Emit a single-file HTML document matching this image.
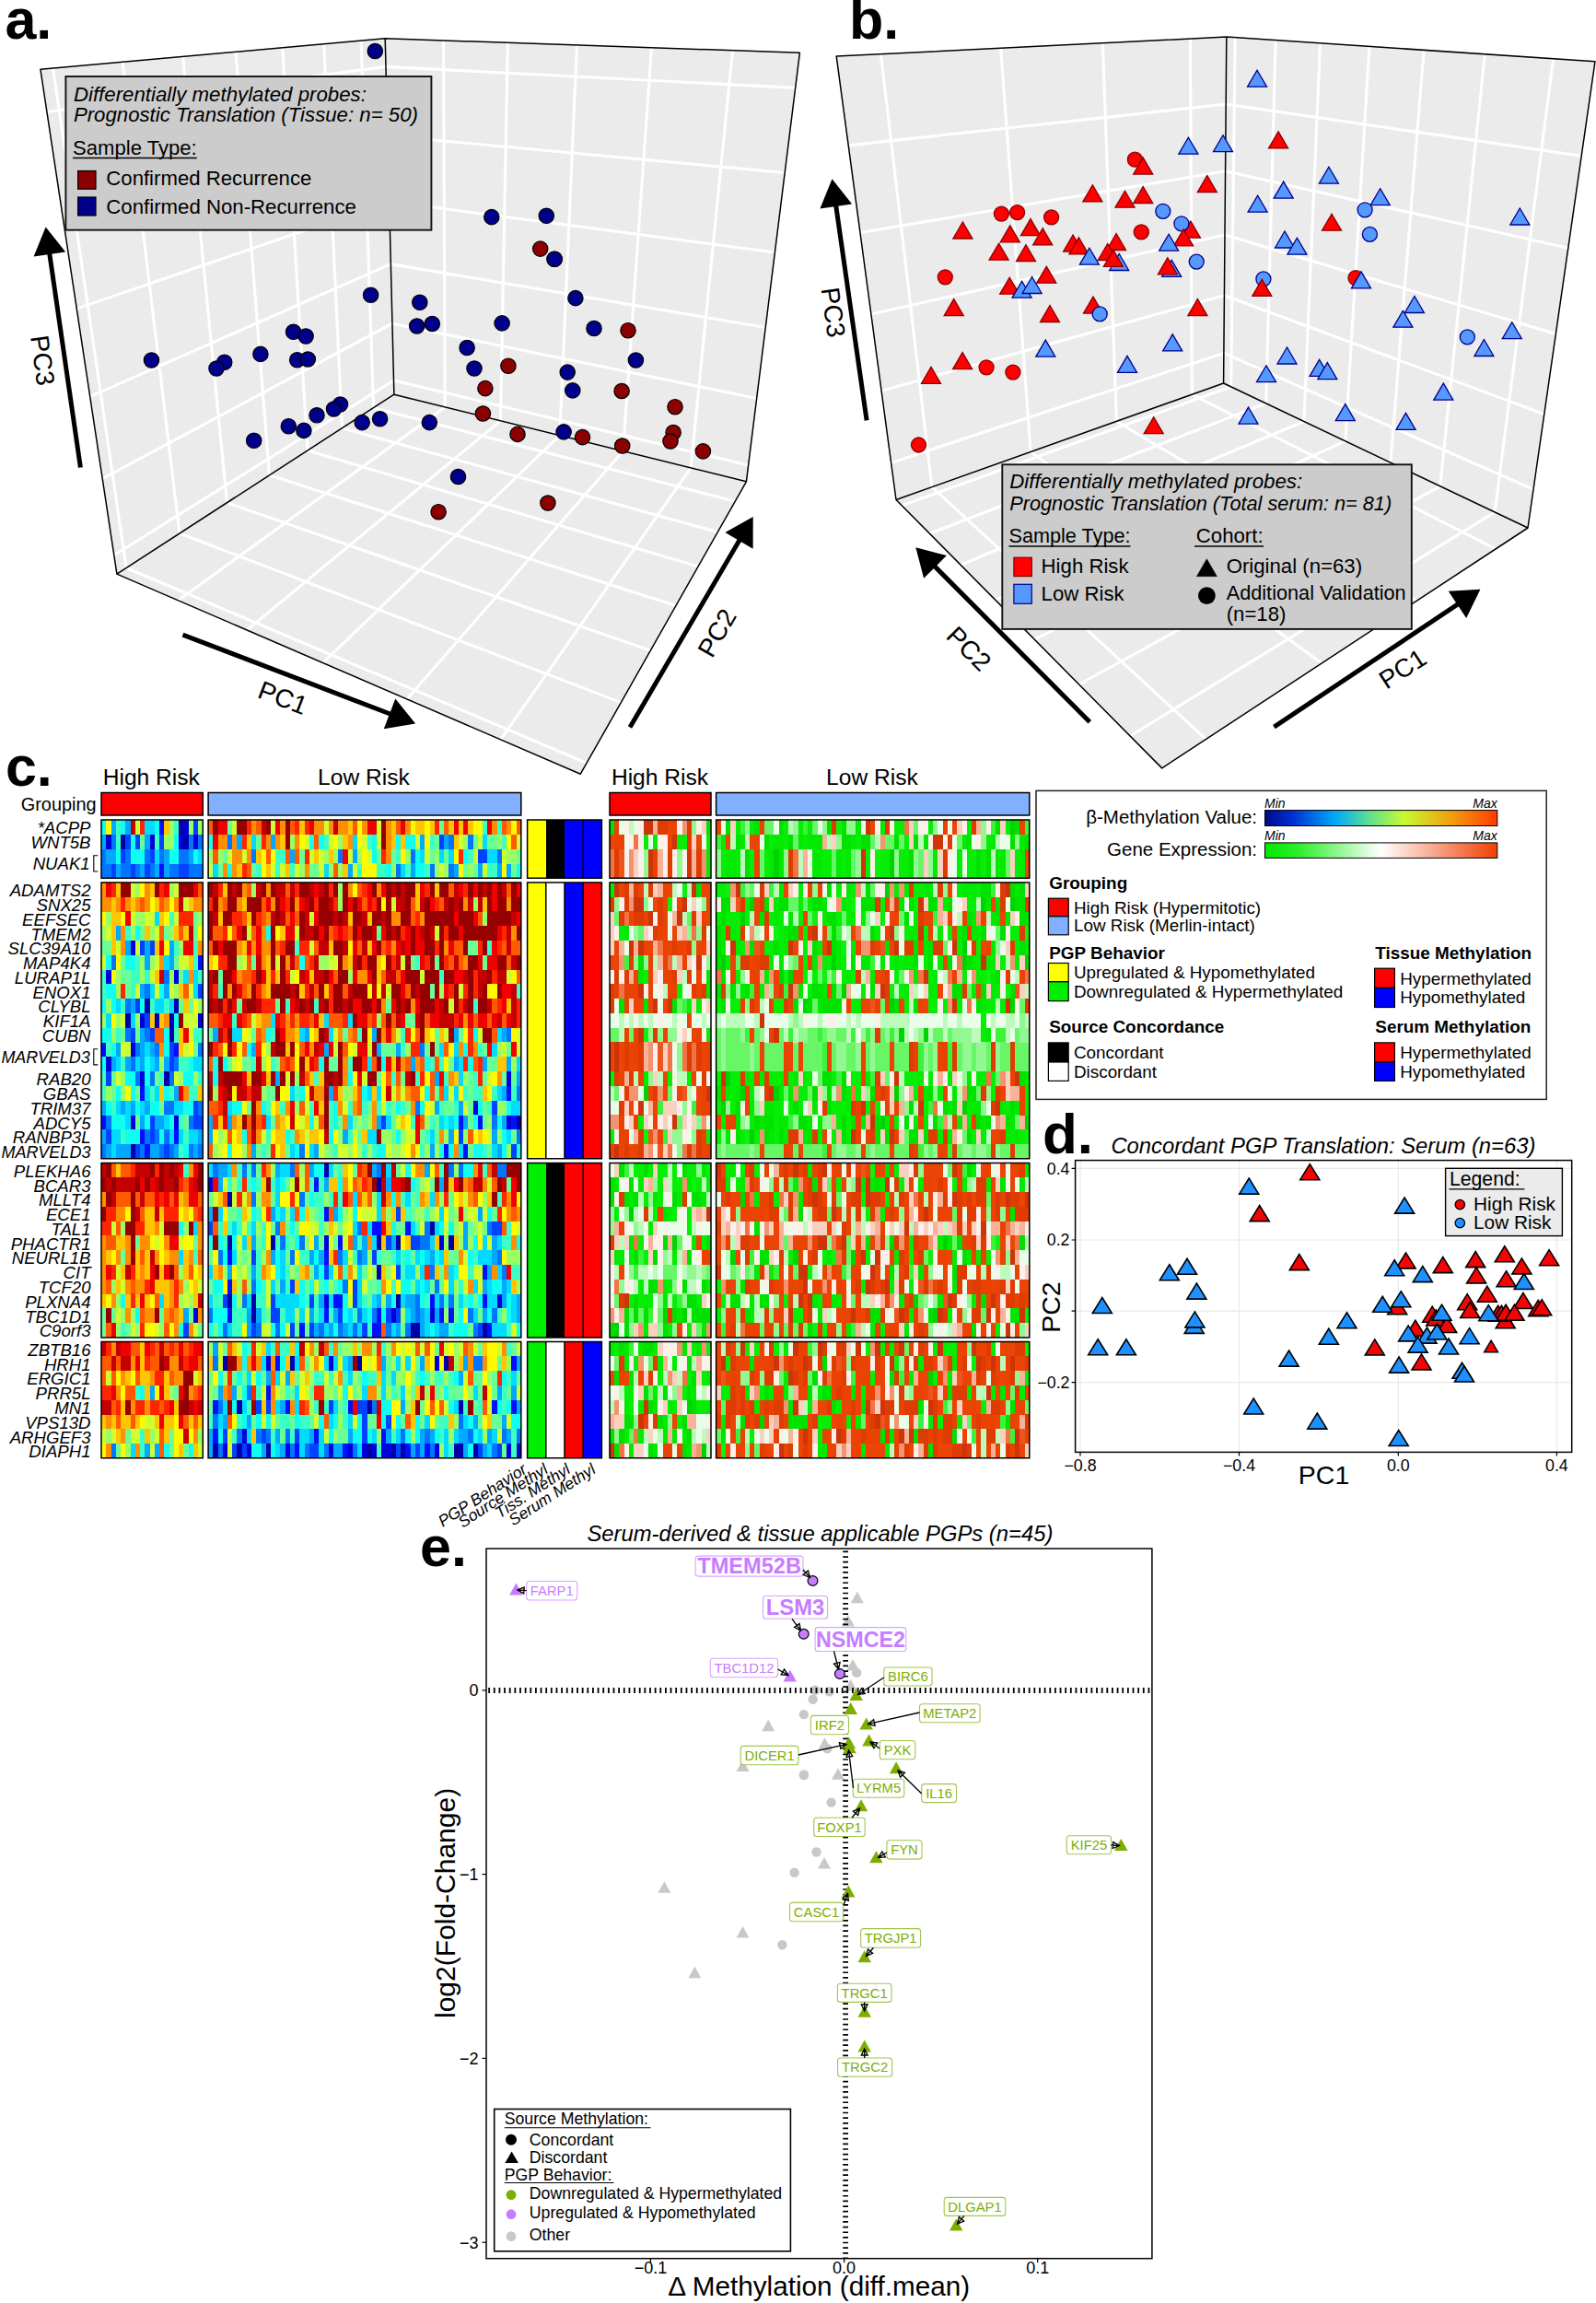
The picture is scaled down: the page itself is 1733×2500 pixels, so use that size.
<!DOCTYPE html>
<html><head><meta charset="utf-8"><title>Figure</title>
<style>html,body{margin:0;padding:0;background:#fff}svg{display:block}text{font-family:"Liberation Sans",Arial,Helvetica,sans-serif;fill:#000}</style>
</head><body>
<svg width="1733" height="2500" viewBox="0 0 1733 2500">
<rect width="1733" height="2500" fill="#fff"/>
<polygon points="43.9,75.2 418.2,41.7 868.4,57.3 810.4,522.8 630.3,840.2 126.9,623.1" fill="#ebebeb"/>
<path d="M392.1,44 L405.6,442.7 L798.2,544.2 M351.7,47.6 L371.5,464.7 L779.3,577.5 M306.7,51.7 L334,489 L758.1,615.1 M256,56.2 L292.5,515.8 L733.9,657.6 M198.6,61.4 L246.5,545.7 L706.3,706.3 M133,67.2 L195,579 L674.4,762.6 M57.5,74 L137.1,616.5 L637.1,828.3 M481.6,43.9 L483.2,441.9 L193.5,651.8 M551.3,46.3 L543.5,456.8 L268.2,684 M626.4,48.9 L607.8,472.7 L350.6,719.6 M707.5,51.7 L676.5,489.7 L441.9,758.9 M795.5,54.8 L750.1,507.9 L543.6,802.8 M123.8,602.8 L427.5,413 L812.6,505 M111.2,519.7 L426,351.2 L821.7,432.4 M97.7,430.7 L424.3,286.6 L831.2,355.5 M83.3,335.1 L422.6,218.7 L841.4,274 M67.7,232.4 L420.9,147.4 L852.2,187.5 M50.9,121.5 L419,72.4 L863.7,95.4" fill="none" stroke="#fff" stroke-width="3.1" stroke-linejoin="round"/>
<path d="M43.9,75.2 L418.2,41.7 L868.4,57.3 L810.4,522.8 L630.3,840.2 L126.9,623.1 Z M418.2,41.7 L427.9,428.2 M427.9,428.2 L126.9,623.1 M427.9,428.2 L810.4,522.8" fill="none" stroke="#000" stroke-width="1.5" stroke-linejoin="round"/>
<circle cx="407.3" cy="55.5" r="8.2" fill="#00008b" stroke="#000" stroke-width="1.2"/>
<circle cx="402.6" cy="320.2" r="8.2" fill="#00008b" stroke="#000" stroke-width="1.2"/>
<circle cx="455.8" cy="328.3" r="8.2" fill="#00008b" stroke="#000" stroke-width="1.2"/>
<circle cx="452.7" cy="354" r="8.2" fill="#00008b" stroke="#000" stroke-width="1.2"/>
<circle cx="469.3" cy="351.5" r="8.2" fill="#00008b" stroke="#000" stroke-width="1.2"/>
<circle cx="318.6" cy="360.3" r="8.2" fill="#00008b" stroke="#000" stroke-width="1.2"/>
<circle cx="332.1" cy="365" r="8.2" fill="#00008b" stroke="#000" stroke-width="1.2"/>
<circle cx="282.9" cy="384.4" r="8.2" fill="#00008b" stroke="#000" stroke-width="1.2"/>
<circle cx="322.7" cy="390.7" r="8.2" fill="#00008b" stroke="#000" stroke-width="1.2"/>
<circle cx="334.3" cy="390" r="8.2" fill="#00008b" stroke="#000" stroke-width="1.2"/>
<circle cx="164.5" cy="391" r="8.2" fill="#00008b" stroke="#000" stroke-width="1.2"/>
<circle cx="243.7" cy="393.2" r="8.2" fill="#00008b" stroke="#000" stroke-width="1.2"/>
<circle cx="235" cy="400" r="8.2" fill="#00008b" stroke="#000" stroke-width="1.2"/>
<circle cx="369.5" cy="439" r="8.2" fill="#00008b" stroke="#000" stroke-width="1.2"/>
<circle cx="362.5" cy="444" r="8.2" fill="#00008b" stroke="#000" stroke-width="1.2"/>
<circle cx="344" cy="450.8" r="8.2" fill="#00008b" stroke="#000" stroke-width="1.2"/>
<circle cx="313.3" cy="462.7" r="8.2" fill="#00008b" stroke="#000" stroke-width="1.2"/>
<circle cx="329.9" cy="467.4" r="8.2" fill="#00008b" stroke="#000" stroke-width="1.2"/>
<circle cx="275.7" cy="478.3" r="8.2" fill="#00008b" stroke="#000" stroke-width="1.2"/>
<circle cx="393.2" cy="458.6" r="8.2" fill="#00008b" stroke="#000" stroke-width="1.2"/>
<circle cx="412.6" cy="454.8" r="8.2" fill="#00008b" stroke="#000" stroke-width="1.2"/>
<circle cx="466.3" cy="458.6" r="8.2" fill="#00008b" stroke="#000" stroke-width="1.2"/>
<circle cx="497.5" cy="517.5" r="8.2" fill="#00008b" stroke="#000" stroke-width="1.2"/>
<circle cx="533.8" cy="235.6" r="8.2" fill="#00008b" stroke="#000" stroke-width="1.2"/>
<circle cx="593.3" cy="234.3" r="8.2" fill="#00008b" stroke="#000" stroke-width="1.2"/>
<circle cx="602.1" cy="281.3" r="8.2" fill="#00008b" stroke="#000" stroke-width="1.2"/>
<circle cx="624.9" cy="323.6" r="8.2" fill="#00008b" stroke="#000" stroke-width="1.2"/>
<circle cx="545.1" cy="350.9" r="8.2" fill="#00008b" stroke="#000" stroke-width="1.2"/>
<circle cx="645" cy="356.5" r="8.2" fill="#00008b" stroke="#000" stroke-width="1.2"/>
<circle cx="507.1" cy="377.5" r="8.2" fill="#00008b" stroke="#000" stroke-width="1.2"/>
<circle cx="690.4" cy="391" r="8.2" fill="#00008b" stroke="#000" stroke-width="1.2"/>
<circle cx="515" cy="400" r="8.2" fill="#00008b" stroke="#000" stroke-width="1.2"/>
<circle cx="616.2" cy="404.1" r="8.2" fill="#00008b" stroke="#000" stroke-width="1.2"/>
<circle cx="621.8" cy="423.9" r="8.2" fill="#00008b" stroke="#000" stroke-width="1.2"/>
<circle cx="612.1" cy="468.9" r="8.2" fill="#00008b" stroke="#000" stroke-width="1.2"/>
<circle cx="586.7" cy="270.1" r="8.2" fill="#8b0000" stroke="#000" stroke-width="1.2"/>
<circle cx="682" cy="358.7" r="8.2" fill="#8b0000" stroke="#000" stroke-width="1.2"/>
<circle cx="551.9" cy="397.2" r="8.2" fill="#8b0000" stroke="#000" stroke-width="1.2"/>
<circle cx="526.9" cy="421.6" r="8.2" fill="#8b0000" stroke="#000" stroke-width="1.2"/>
<circle cx="675.1" cy="424.5" r="8.2" fill="#8b0000" stroke="#000" stroke-width="1.2"/>
<circle cx="733" cy="441.7" r="8.2" fill="#8b0000" stroke="#000" stroke-width="1.2"/>
<circle cx="524.4" cy="449" r="8.2" fill="#8b0000" stroke="#000" stroke-width="1.2"/>
<circle cx="562" cy="471.4" r="8.2" fill="#8b0000" stroke="#000" stroke-width="1.2"/>
<circle cx="632.5" cy="474.6" r="8.2" fill="#8b0000" stroke="#000" stroke-width="1.2"/>
<circle cx="675.7" cy="484" r="8.2" fill="#8b0000" stroke="#000" stroke-width="1.2"/>
<circle cx="731.1" cy="469.5" r="8.2" fill="#8b0000" stroke="#000" stroke-width="1.2"/>
<circle cx="728" cy="479" r="8.2" fill="#8b0000" stroke="#000" stroke-width="1.2"/>
<circle cx="763.4" cy="489.9" r="8.2" fill="#8b0000" stroke="#000" stroke-width="1.2"/>
<circle cx="476.1" cy="555.7" r="8.2" fill="#8b0000" stroke="#000" stroke-width="1.2"/>
<circle cx="594.9" cy="546" r="8.2" fill="#8b0000" stroke="#000" stroke-width="1.2"/>
<circle cx="602.1" cy="281.3" r="8.2" fill="#00008b" stroke="#000" stroke-width="1.2"/>
<line x1="87.4" y1="507.5" x2="53.6" y2="274.1" stroke="#000" stroke-width="5"/><polygon points="49.6,246.4 71.2,273.6 36.6,278.6" fill="#000"/>
<line x1="198.5" y1="689.1" x2="424.9" y2="775.5" stroke="#000" stroke-width="5"/><polygon points="451.1,785.5 416.8,791.2 429.3,758.5" fill="#000"/>
<line x1="684" y1="789.5" x2="803.6" y2="585.3" stroke="#000" stroke-width="5"/><polygon points="817.7,561.1 817.6,595.8 787.4,578.1" fill="#000"/>
<text x="46.6" y="391.2" transform="rotate(82 46.6 391.2)" text-anchor="middle" font-size="28" dy="10">PC3</text>
<text x="307.3" y="757.3" transform="rotate(21 307.3 757.3)" text-anchor="middle" font-size="28" dy="10">PC1</text>
<text x="778.2" y="686.9" transform="rotate(-60 778.2 686.9)" text-anchor="middle" font-size="28" dy="10">PC2</text>
<rect x="71.4" y="83" width="397" height="166.7" fill="#cccccc" stroke="#111" stroke-width="1.9"/>
<text x="79.9" y="109.6" font-size="22" font-style="italic" textLength="318" lengthAdjust="spacingAndGlyphs">Differentially methylated probes:</text>
<text x="79.9" y="132.2" font-size="22" font-style="italic" textLength="374" lengthAdjust="spacingAndGlyphs">Prognostic Translation (Tissue: n= 50)</text>
<text x="79" y="167.6" font-size="22" textLength="134.7" lengthAdjust="spacingAndGlyphs">Sample Type:</text>
<line x1="79" y1="171.5" x2="213.7" y2="171.5" stroke="#000" stroke-width="1.4"/>
<rect x="84.6" y="185.5" width="19.4" height="19.7" fill="#8b0000" stroke="#000" stroke-width="1.2"/>
<rect x="84.6" y="214" width="19.4" height="20" fill="#00008b" stroke="#000" stroke-width="1.2"/>
<text x="115.3" y="200.5" font-size="22" textLength="223" lengthAdjust="spacingAndGlyphs">Confirmed Recurrence</text>
<text x="115.3" y="231.8" font-size="22" textLength="271.6" lengthAdjust="spacingAndGlyphs">Confirmed Non-Recurrence</text>
<text x="5.4" y="42.3" font-size="61" font-weight="bold">a.</text>
<polygon points="908.2,61.1 1331.8,40.1 1732,66.7 1659,573 1261.7,833.9 973,542.5" fill="#ebebeb"/>
<path d="M1292.5,42 L1294.3,428.2 L1624.2,595.8 M1197.3,46.8 L1212.4,457.3 L1538.4,652.2 M1086.7,52.3 L1119.1,490.5 L1435.3,719.9 M956.4,58.7 L1011.9,528.7 L1309.5,802.5 M1341.1,40.7 L1336.7,419.8 L979.3,548.9 M1385.1,43.6 L1374.7,437.9 L1009.5,579.3 M1433.5,46.9 L1415.9,457.5 L1043.1,613.3 M1486.9,50.4 L1460.8,478.8 L1080.8,651.3 M1546.1,54.3 L1509.9,502.1 L1123.3,694.2 M1612.3,58.7 L1563.8,527.8 L1171.6,743 M1686.6,63.7 L1623.2,556 L1227.1,799 M967.6,502.4 L1328.9,383.4 L1665,531.2 M957.1,424.3 L1329.4,320.7 L1676.8,449.6 M945.9,341.1 L1330,254.9 L1689.3,362.5 M934,252.5 L1330.6,185.8 L1702.8,269.3 M921.2,157.9 L1331.2,113.1 L1717.2,169.3" fill="none" stroke="#fff" stroke-width="3.1" stroke-linejoin="round"/>
<path d="M908.2,61.1 L1331.8,40.1 L1732,66.7 L1659,573 L1261.7,833.9 L973,542.5 Z M1331.8,40.1 L1328.6,416 M1328.6,416 L973,542.5 M1328.6,416 L1659,573" fill="none" stroke="#000" stroke-width="1.5" stroke-linejoin="round"/>
<circle cx="1232.4" cy="173.2" r="8" fill="#ff0000" stroke="#8b0000" stroke-width="1.3"/>
<polygon points="1230.7,189.1 1251.7,189.1 1241.2,171.1" fill="#ff0000" stroke="#8b0000" stroke-width="1.3" stroke-linejoin="miter"/>
<polygon points="1175.9,218.9 1196.9,218.9 1186.4,200.9" fill="#ff0000" stroke="#8b0000" stroke-width="1.3" stroke-linejoin="miter"/>
<polygon points="1211,225.2 1232,225.2 1221.5,207.2" fill="#ff0000" stroke="#8b0000" stroke-width="1.3" stroke-linejoin="miter"/>
<polygon points="1230.7,220.5 1251.7,220.5 1241.2,202.5" fill="#ff0000" stroke="#8b0000" stroke-width="1.3" stroke-linejoin="miter"/>
<polygon points="1300.3,208.6 1321.3,208.6 1310.8,190.6" fill="#ff0000" stroke="#8b0000" stroke-width="1.3" stroke-linejoin="miter"/>
<circle cx="1087.4" cy="232.1" r="8" fill="#ff0000" stroke="#8b0000" stroke-width="1.3"/>
<circle cx="1104.6" cy="230.6" r="8" fill="#ff0000" stroke="#8b0000" stroke-width="1.3"/>
<circle cx="1141.6" cy="235.9" r="8" fill="#ff0000" stroke="#8b0000" stroke-width="1.3"/>
<polygon points="1034.9,259 1055.9,259 1045.4,241" fill="#ff0000" stroke="#8b0000" stroke-width="1.3" stroke-linejoin="miter"/>
<polygon points="1086.3,262.8 1107.3,262.8 1096.8,244.8" fill="#ff0000" stroke="#8b0000" stroke-width="1.3" stroke-linejoin="miter"/>
<polygon points="1108.5,255.6 1129.5,255.6 1119,237.6" fill="#ff0000" stroke="#8b0000" stroke-width="1.3" stroke-linejoin="miter"/>
<polygon points="1121.7,265.9 1142.7,265.9 1132.2,247.9" fill="#ff0000" stroke="#8b0000" stroke-width="1.3" stroke-linejoin="miter"/>
<polygon points="1074.1,282.2 1095.1,282.2 1084.6,264.2" fill="#ff0000" stroke="#8b0000" stroke-width="1.3" stroke-linejoin="miter"/>
<polygon points="1103.5,283.7 1124.5,283.7 1114,265.7" fill="#ff0000" stroke="#8b0000" stroke-width="1.3" stroke-linejoin="miter"/>
<polygon points="1154.6,273.1 1175.6,273.1 1165.1,255.1" fill="#ff0000" stroke="#8b0000" stroke-width="1.3" stroke-linejoin="miter"/>
<polygon points="1160.9,275.9 1181.9,275.9 1171.4,257.9" fill="#ff0000" stroke="#8b0000" stroke-width="1.3" stroke-linejoin="miter"/>
<polygon points="1204.7,293.5 1225.7,293.5 1215.2,275.5" fill="#5599ff" stroke="#00008b" stroke-width="1.3" stroke-linejoin="miter"/>
<polygon points="1201.6,271.5 1222.6,271.5 1212.1,253.5" fill="#ff0000" stroke="#8b0000" stroke-width="1.3" stroke-linejoin="miter"/>
<polygon points="1192.2,282.5 1213.2,282.5 1202.7,264.5" fill="#ff0000" stroke="#8b0000" stroke-width="1.3" stroke-linejoin="miter"/>
<polygon points="1198.4,289.4 1219.4,289.4 1208.9,271.4" fill="#ff0000" stroke="#8b0000" stroke-width="1.3" stroke-linejoin="miter"/>
<polygon points="1172.4,287.2 1193.4,287.2 1182.9,269.2" fill="#5599ff" stroke="#00008b" stroke-width="1.3" stroke-linejoin="miter"/>
<circle cx="1239.3" cy="251.9" r="8" fill="#ff0000" stroke="#8b0000" stroke-width="1.3"/>
<circle cx="1262.8" cy="229.3" r="8" fill="#5599ff" stroke="#00008b" stroke-width="1.3"/>
<polygon points="1282.4,258.1 1303.4,258.1 1292.9,240.1" fill="#ff0000" stroke="#8b0000" stroke-width="1.3" stroke-linejoin="miter"/>
<circle cx="1282.9" cy="242.8" r="8" fill="#5599ff" stroke="#00008b" stroke-width="1.3"/>
<polygon points="1274.6,266.8 1295.6,266.8 1285.1,248.8" fill="#ff0000" stroke="#8b0000" stroke-width="1.3" stroke-linejoin="miter"/>
<polygon points="1258.6,272.2 1279.6,272.2 1269.1,254.2" fill="#5599ff" stroke="#00008b" stroke-width="1.3" stroke-linejoin="miter"/>
<circle cx="1299.2" cy="284.1" r="8" fill="#5599ff" stroke="#00008b" stroke-width="1.3"/>
<polygon points="1261.7,300.4 1282.7,300.4 1272.2,282.4" fill="#5599ff" stroke="#00008b" stroke-width="1.3" stroke-linejoin="miter"/>
<polygon points="1257.3,297.8 1278.3,297.8 1267.8,279.8" fill="#ff0000" stroke="#8b0000" stroke-width="1.3" stroke-linejoin="miter"/>
<circle cx="1026.3" cy="300.8" r="8" fill="#ff0000" stroke="#8b0000" stroke-width="1.3"/>
<polygon points="1125.8,307.2 1146.8,307.2 1136.3,289.2" fill="#ff0000" stroke="#8b0000" stroke-width="1.3" stroke-linejoin="miter"/>
<polygon points="1085.7,319.2 1106.7,319.2 1096.2,301.2" fill="#ff0000" stroke="#8b0000" stroke-width="1.3" stroke-linejoin="miter"/>
<polygon points="1099.1,323.2 1120.1,323.2 1109.6,305.2" fill="#5599ff" stroke="#00008b" stroke-width="1.3" stroke-linejoin="miter"/>
<polygon points="1110.1,318.5 1131.1,318.5 1120.6,300.5" fill="#5599ff" stroke="#00008b" stroke-width="1.3" stroke-linejoin="miter"/>
<polygon points="1025.2,342.6 1046.2,342.6 1035.7,324.6" fill="#ff0000" stroke="#8b0000" stroke-width="1.3" stroke-linejoin="miter"/>
<polygon points="1129.5,349.5 1150.5,349.5 1140,331.5" fill="#ff0000" stroke="#8b0000" stroke-width="1.3" stroke-linejoin="miter"/>
<polygon points="1176.5,340.1 1197.5,340.1 1187,322.1" fill="#ff0000" stroke="#8b0000" stroke-width="1.3" stroke-linejoin="miter"/>
<circle cx="1194.2" cy="340.9" r="8" fill="#5599ff" stroke="#00008b" stroke-width="1.3"/>
<polygon points="1289.9,342.6 1310.9,342.6 1300.4,324.6" fill="#ff0000" stroke="#8b0000" stroke-width="1.3" stroke-linejoin="miter"/>
<polygon points="1124.8,387.1 1145.8,387.1 1135.3,369.1" fill="#5599ff" stroke="#00008b" stroke-width="1.3" stroke-linejoin="miter"/>
<polygon points="1262.7,380.9 1283.7,380.9 1273.2,362.9" fill="#5599ff" stroke="#00008b" stroke-width="1.3" stroke-linejoin="miter"/>
<polygon points="1213.5,404.4 1234.5,404.4 1224,386.4" fill="#5599ff" stroke="#00008b" stroke-width="1.3" stroke-linejoin="miter"/>
<polygon points="1034.6,400.6 1055.6,400.6 1045.1,382.6" fill="#ff0000" stroke="#8b0000" stroke-width="1.3" stroke-linejoin="miter"/>
<circle cx="1071.1" cy="398.8" r="8" fill="#ff0000" stroke="#8b0000" stroke-width="1.3"/>
<circle cx="1099.9" cy="404.1" r="8" fill="#ff0000" stroke="#8b0000" stroke-width="1.3"/>
<polygon points="1000.5,416.3 1021.5,416.3 1011,398.3" fill="#ff0000" stroke="#8b0000" stroke-width="1.3" stroke-linejoin="miter"/>
<polygon points="1279.9,167.2 1300.9,167.2 1290.4,149.2" fill="#5599ff" stroke="#00008b" stroke-width="1.3" stroke-linejoin="miter"/>
<polygon points="1317.5,164.7 1338.5,164.7 1328,146.7" fill="#5599ff" stroke="#00008b" stroke-width="1.3" stroke-linejoin="miter"/>
<polygon points="1354.5,94.2 1375.5,94.2 1365,76.2" fill="#5599ff" stroke="#00008b" stroke-width="1.3" stroke-linejoin="miter"/>
<polygon points="1355.1,230.2 1376.1,230.2 1365.6,212.2" fill="#5599ff" stroke="#00008b" stroke-width="1.3" stroke-linejoin="miter"/>
<circle cx="1371.9" cy="302.9" r="8" fill="#5599ff" stroke="#00008b" stroke-width="1.3"/>
<polygon points="1359.8,321.3 1380.8,321.3 1370.3,303.3" fill="#ff0000" stroke="#8b0000" stroke-width="1.3" stroke-linejoin="miter"/>
<polygon points="1364.5,414.7 1385.5,414.7 1375,396.7" fill="#5599ff" stroke="#00008b" stroke-width="1.3" stroke-linejoin="miter"/>
<polygon points="1377.6,160.9 1398.6,160.9 1388.1,142.9" fill="#ff0000" stroke="#8b0000" stroke-width="1.3" stroke-linejoin="miter"/>
<polygon points="1432.4,199.2 1453.4,199.2 1442.9,181.2" fill="#5599ff" stroke="#00008b" stroke-width="1.3" stroke-linejoin="miter"/>
<polygon points="1383.2,215.1 1404.2,215.1 1393.7,197.1" fill="#5599ff" stroke="#00008b" stroke-width="1.3" stroke-linejoin="miter"/>
<polygon points="1488.2,222.7 1509.2,222.7 1498.7,204.7" fill="#5599ff" stroke="#00008b" stroke-width="1.3" stroke-linejoin="miter"/>
<circle cx="1482.1" cy="227.8" r="8" fill="#5599ff" stroke="#00008b" stroke-width="1.3"/>
<polygon points="1435.5,250.2 1456.5,250.2 1446,232.2" fill="#ff0000" stroke="#8b0000" stroke-width="1.3" stroke-linejoin="miter"/>
<circle cx="1487.4" cy="254.4" r="8" fill="#5599ff" stroke="#00008b" stroke-width="1.3"/>
<polygon points="1384.5,269 1405.5,269 1395,251" fill="#5599ff" stroke="#00008b" stroke-width="1.3" stroke-linejoin="miter"/>
<polygon points="1397.9,276.2 1418.9,276.2 1408.4,258.2" fill="#5599ff" stroke="#00008b" stroke-width="1.3" stroke-linejoin="miter"/>
<polygon points="1639.8,244 1660.8,244 1650.3,226" fill="#5599ff" stroke="#00008b" stroke-width="1.3" stroke-linejoin="miter"/>
<circle cx="1472" cy="301.7" r="8" fill="#ff0000" stroke="#8b0000" stroke-width="1.3"/>
<polygon points="1467.5,312.9 1488.5,312.9 1478,294.9" fill="#5599ff" stroke="#00008b" stroke-width="1.3" stroke-linejoin="miter"/>
<polygon points="1525.4,339.5 1546.4,339.5 1535.9,321.5" fill="#5599ff" stroke="#00008b" stroke-width="1.3" stroke-linejoin="miter"/>
<polygon points="1512.9,355.2 1533.9,355.2 1523.4,337.2" fill="#5599ff" stroke="#00008b" stroke-width="1.3" stroke-linejoin="miter"/>
<circle cx="1593.3" cy="365.9" r="8" fill="#5599ff" stroke="#00008b" stroke-width="1.3"/>
<polygon points="1631.3,367.7 1652.3,367.7 1641.8,349.7" fill="#5599ff" stroke="#00008b" stroke-width="1.3" stroke-linejoin="miter"/>
<polygon points="1600.9,386.5 1621.9,386.5 1611.4,368.5" fill="#5599ff" stroke="#00008b" stroke-width="1.3" stroke-linejoin="miter"/>
<polygon points="1387,395 1408,395 1397.5,377" fill="#5599ff" stroke="#00008b" stroke-width="1.3" stroke-linejoin="miter"/>
<polygon points="1422.1,408.4 1443.1,408.4 1432.6,390.4" fill="#5599ff" stroke="#00008b" stroke-width="1.3" stroke-linejoin="miter"/>
<polygon points="1430.8,411.6 1451.8,411.6 1441.3,393.6" fill="#5599ff" stroke="#00008b" stroke-width="1.3" stroke-linejoin="miter"/>
<polygon points="1556.8,434.1 1577.8,434.1 1567.3,416.1" fill="#5599ff" stroke="#00008b" stroke-width="1.3" stroke-linejoin="miter"/>
<polygon points="1345,460.1 1366,460.1 1355.5,442.1" fill="#5599ff" stroke="#00008b" stroke-width="1.3" stroke-linejoin="miter"/>
<polygon points="1450.3,456.6 1471.3,456.6 1460.8,438.6" fill="#5599ff" stroke="#00008b" stroke-width="1.3" stroke-linejoin="miter"/>
<polygon points="1516,466.3 1537,466.3 1526.5,448.3" fill="#5599ff" stroke="#00008b" stroke-width="1.3" stroke-linejoin="miter"/>
<polygon points="1242.2,470.7 1263.2,470.7 1252.7,452.7" fill="#ff0000" stroke="#8b0000" stroke-width="1.3" stroke-linejoin="miter"/>
<circle cx="997.5" cy="483" r="8" fill="#ff0000" stroke="#8b0000" stroke-width="1.3"/>
<line x1="941.1" y1="456.4" x2="907.5" y2="221.9" stroke="#000" stroke-width="5"/><polygon points="903.5,194.2 925.1,221.4 890.4,226.4" fill="#000"/>
<line x1="1183.3" y1="783.8" x2="1014.1" y2="614" stroke="#000" stroke-width="5"/><polygon points="994.3,594.2 1027.9,603.1 1003.1,627.8" fill="#000"/>
<line x1="1383.4" y1="789.1" x2="1584.1" y2="655.2" stroke="#000" stroke-width="5"/><polygon points="1607.4,639.7 1592.2,670.9 1572.7,641.8" fill="#000"/>
<text x="905.1" y="339" transform="rotate(82 905.1 339)" text-anchor="middle" font-size="28" dy="10">PC3</text>
<text x="1052.3" y="703.9" transform="rotate(45 1052.3 703.9)" text-anchor="middle" font-size="28" dy="10">PC2</text>
<text x="1522.8" y="725.8" transform="rotate(-33 1522.8 725.8)" text-anchor="middle" font-size="28" dy="10">PC1</text>
<rect x="1088.3" y="504.3" width="444.5" height="178.6" fill="#cccccc" stroke="#111" stroke-width="1.9"/>
<text x="1096.2" y="530" font-size="22" font-style="italic" textLength="318" lengthAdjust="spacingAndGlyphs">Differentially methylated probes:</text>
<text x="1096.2" y="553.5" font-size="22" font-style="italic" textLength="415" lengthAdjust="spacingAndGlyphs">Prognostic Translation (Total serum: n= 81)</text>
<text x="1095.5" y="588.9" font-size="22" textLength="132" lengthAdjust="spacingAndGlyphs">Sample Type:</text>
<line x1="1095.5" y1="593" x2="1227.5" y2="593" stroke="#000" stroke-width="1.4"/>
<text x="1298.8" y="588.9" font-size="22.2">Cohort:</text>
<line x1="1297" y1="593" x2="1372" y2="593" stroke="#000" stroke-width="1.4"/>
<rect x="1100.9" y="605.2" width="19.4" height="20.4" fill="#ff0000" stroke="#8b0000" stroke-width="1.2"/>
<rect x="1100.9" y="634.3" width="19.4" height="21" fill="#5599ff" stroke="#00008b" stroke-width="1.2"/>
<text x="1130.6" y="621.8" font-size="22.2">High Risk</text>
<text x="1130.6" y="652.2" font-size="22.2">Low Risk</text>
<polygon points="1299.4,625.7 1321.4,625.7 1310.4,606.7" fill="#000" stroke="#000" stroke-width="0.5" stroke-linejoin="miter"/>
<circle cx="1310.4" cy="646.6" r="9.4" fill="#000" stroke="#000" stroke-width="0"/>
<text x="1331.7" y="621.8" font-size="22.2">Original (n=63)</text>
<text x="1331.7" y="650.6" font-size="22.2" textLength="195" lengthAdjust="spacingAndGlyphs">Additional Validation</text>
<text x="1331.7" y="674.1" font-size="22.2">(n=18)</text>
<text x="922" y="42.3" font-size="61" font-weight="bold">b.</text>
<g shape-rendering="crispEdges">
<g transform="translate(110 890.1) scale(5.2524 1.5780)" fill="none" stroke-width="10.1"><path stroke="#0000a8" d="M16 5h1M4 15h1M17 15h1M9 128h1M15 128h1M5 138h1M11 138h1M14 138h1M14 148h1M13 178h1M6 228h1"/><path stroke="#0000db" d="M17 5h1M1 15h1M10 15h1M16 15h1M19 15h1M6 88h1M1 108h1M15 108h1M8 138h1M20 138h1M6 158h1M1 168h1M8 178h1M6 208h1M15 208h1M19 341h1"/><path stroke="#000fff" d="M12 5h1M12 35h1M20 98h1M0 158h1M15 158h1M8 188h1M0 208h1M8 218h1M15 218h1M9 228h1"/><path stroke="#0042ff" d="M19 5h1M5 15h1M7 15h1M12 15h1M4 25h1M10 25h1M2 35h1M6 35h1M9 35h1M16 35h2M8 88h1M10 88h1M20 118h1M7 128h1M9 138h1M6 148h1M10 148h1M14 158h1M14 168h1M1 178h1M19 198h1M10 208h1M19 208h2M1 218h1M10 218h1M7 228h1M13 228h1M17 351h1"/><path stroke="#0075ff" d="M2 15h1M18 15h1M20 15h1M0 25h1M5 25h1M9 25h1M12 25h1M16 25h2M0 35h2M4 35h2M7 35h1M10 35h1M14 35h2M18 35h3M2 98h1M13 108h1M9 118h1M5 128h1M5 148h1M9 148h1M7 158h1M11 158h1M20 158h1M6 168h1M15 168h1M7 178h1M10 178h1M14 178h1M13 198h2M20 198h1M1 208h1M18 208h1M9 218h1M11 218h1M13 218h1M0 228h1M8 228h1M12 228h1M14 228h1M18 228h1M20 228h1M2 434h1"/><path stroke="#00a8ff" d="M2 5h1M5 5h1M0 15h1M9 15h1M1 25h2M13 25h1M18 25h1M3 35h1M8 35h1M11 35h1M13 35h1M3 78h1M5 88h1M9 88h1M14 88h1M9 98h1M14 98h1M8 118h1M13 118h1M6 128h1M8 148h1M3 158h1M8 158h1M10 158h1M2 168h1M5 168h1M8 168h1M11 168h1M13 168h1M15 188h1M0 198h1M4 198h1M6 198h1M9 198h1M8 208h1M11 208h2M0 218h1M20 218h1M1 228h1M3 228h3M10 228h2M15 228h1M19 228h1M17 341h1M10 394h1M9 434h1M11 434h1"/><path stroke="#00dbff" d="M9 5h2M11 25h1M20 25h1M11 68h1M13 98h1M17 108h1M19 108h1M10 118h1M19 118h1M3 128h1M11 128h2M14 128h1M1 138h1M6 138h1M9 158h1M3 168h1M7 168h1M10 168h1M19 168h2M9 188h1M11 188h1M3 198h1M5 198h1M8 198h1M15 198h2M5 208h1M13 208h1M2 218h2M14 218h1M16 218h1M18 218h2M2 228h1M19 281h1M16 301h1M12 331h1M6 434h1"/><path stroke="#0efff1" d="M0 5h1M4 5h1M11 5h1M6 15h1M15 15h1M3 25h1M6 25h3M14 25h2M19 25h1M7 78h1M1 98h1M5 98h2M1 118h2M12 118h1M0 128h1M2 128h1M8 128h1M15 138h1M0 148h2M13 148h1M2 158h1M13 158h1M0 168h1M9 168h1M18 168h1M5 178h2M9 178h1M17 178h2M3 188h1M6 188h1M13 188h1M1 198h1M7 198h1M10 198h2M17 198h2M2 208h3M9 208h1M14 208h1M5 218h3M12 218h1M17 228h1M16 281h1M4 331h1M7 341h1M16 351h1M8 394h1M13 434h1M18 434h1"/><path stroke="#3bffc4" d="M3 5h1M15 5h1M3 15h1M11 15h1M14 68h1M5 78h1M15 88h1M19 88h1M7 98h1M19 98h1M0 108h1M6 108h2M9 108h1M20 108h1M0 118h1M6 118h1M4 128h1M10 128h1M13 128h1M3 148h1M15 148h1M19 148h2M1 158h1M4 168h1M16 168h2M0 178h1M12 178h1M20 178h1M0 188h1M10 188h1M14 188h1M18 188h2M2 198h1M16 208h1M4 218h1M17 218h1M16 228h1M17 241h1M19 301h1M4 351h1M7 394h1M8 424h1M8 434h1"/><path stroke="#69ff97" d="M8 15h1M19 68h1M8 78h1M13 78h1M19 78h1M0 88h2M4 98h1M15 98h1M4 108h2M16 108h1M5 118h1M16 128h1M18 128h1M4 148h1M7 148h1M19 158h1M2 178h1M11 178h1M2 188h1M7 188h1M12 198h1M7 208h1M17 208h1M7 291h1M19 291h1M4 301h1M0 341h1M2 341h1M12 341h1M18 341h1M0 351h1M5 351h1M20 351h1M15 394h1M5 424h1M14 424h1M3 434h1M14 434h1M17 434h1"/><path stroke="#9aff65" d="M14 5h1M18 5h1M20 5h1M13 15h2M7 48h1M14 48h1M1 68h1M7 68h2M20 68h1M0 78h1M6 78h1M10 78h1M14 78h1M16 88h1M8 98h1M10 98h1M3 108h1M8 108h1M14 108h1M3 118h1M15 118h1M1 128h1M20 128h1M0 138h1M3 138h1M7 138h1M2 148h1M12 168h1M4 178h1M16 178h1M19 178h1M1 188h1M4 188h1M4 281h1M17 281h1M16 311h1M2 321h1M17 321h1M3 331h1M16 331h1M18 331h1M4 341h1M6 341h1M3 351h1M7 351h1M12 351h1M14 394h1M1 424h1M10 424h1M20 424h1M5 434h1"/><path stroke="#cfff30" d="M7 5h1M6 48h1M15 48h1M17 58h1M6 68h1M9 68h2M15 68h1M1 78h1M11 78h1M3 88h1M7 88h1M0 98h1M11 98h1M16 98h2M10 108h1M7 118h1M11 118h1M14 118h1M18 118h1M4 138h1M17 138h3M18 148h1M4 158h2M17 158h1M3 178h1M15 178h1M2 281h1M12 281h1M11 291h1M16 291h1M3 311h1M4 321h1M20 321h1M17 331h1M3 341h1M6 351h1M11 351h1M19 351h1M1 384h1M19 384h1M9 414h2M0 424h1M2 424h1M6 424h2M11 424h1M10 434h1M20 434h1"/><path stroke="#fffa00" d="M1 5h1M8 48h1M10 58h1M14 58h1M0 68h1M4 68h1M13 68h1M20 78h1M13 88h1M3 98h1M2 108h1M19 128h1M2 138h1M18 158h1M5 188h1M5 271h1M16 271h1M18 271h1M10 291h1M12 291h1M17 291h2M2 301h1M12 301h1M19 311h1M18 321h1M1 331h1M10 331h1M9 351h2M14 351h1M3 384h1M6 384h1M4 394h1M11 394h1M8 414h1M15 414h1M15 424h2M18 424h1M0 434h1M4 434h1M15 434h1"/><path stroke="#ffc500" d="M13 5h1M3 48h1M10 48h1M2 58h1M6 58h1M11 58h1M18 58h1M2 68h2M12 68h1M2 78h1M9 78h1M15 78h1M17 78h1M2 88h1M11 88h1M18 98h1M11 108h1M16 118h1M17 128h1M10 138h1M12 138h1M16 148h1M16 158h1M12 188h1M20 188h1M3 241h1M16 261h1M9 271h2M12 271h1M17 271h1M9 281h2M3 291h2M1 301h1M7 301h1M9 301h1M13 301h1M17 301h1M4 311h1M7 311h1M9 311h1M12 311h1M17 311h1M20 311h1M3 321h1M11 321h3M19 321h1M0 331h1M5 331h1M7 331h1M9 331h1M13 331h1M19 331h1M16 341h1M8 364h1M8 374h1M5 384h1M8 384h2M13 384h1M20 384h1M9 394h1M13 394h1M4 404h1M15 404h1M0 414h1M2 414h1M4 414h2M7 414h1M11 414h1M13 414h2M18 414h1M20 414h1M3 424h1M9 424h1M13 424h1M16 434h1M19 434h1"/><path stroke="#ff8f00" d="M0 48h1M9 48h1M0 58h2M3 58h1M5 58h1M7 58h1M9 58h1M13 58h1M15 58h1M19 58h2M4 78h1M4 88h1M20 88h1M12 98h1M18 108h1M13 138h1M12 158h1M17 188h1M18 241h1M0 261h1M17 261h1M3 271h2M11 281h1M20 281h1M0 291h1M5 291h1M8 291h2M13 291h1M20 291h1M0 301h1M3 301h1M5 301h1M11 301h1M14 301h2M18 301h1M0 311h1M8 311h1M0 321h1M5 321h1M7 321h2M14 321h1M16 321h1M2 331h1M14 331h1M5 341h1M9 341h2M13 341h1M15 341h1M20 341h1M15 351h1M18 351h1M2 364h1M6 374h1M14 374h2M4 384h1M10 384h1M15 384h2M3 394h1M18 394h1M6 404h1M9 404h1M1 414h1M4 424h1M19 424h1M1 434h1M7 434h1"/><path stroke="#ff5a00" d="M20 48h1M8 58h1M12 58h1M12 78h1M16 78h1M17 118h1M11 148h2M2 241h1M4 241h2M17 251h1M3 261h3M7 261h1M9 261h2M14 261h1M20 261h1M8 271h1M19 271h1M3 281h1M1 291h2M8 301h1M20 301h1M15 311h1M18 311h1M1 321h1M6 321h1M11 331h1M8 341h1M14 341h1M1 351h1M13 351h1M6 364h2M11 364h1M13 364h1M15 364h1M17 364h1M0 374h2M3 374h1M10 374h2M20 374h1M0 384h1M2 384h1M7 384h1M14 384h1M5 394h2M19 394h1M2 404h1M12 404h1M3 414h1M6 414h1M17 414h1M19 414h1M12 424h1M12 434h1"/><path stroke="#ff2500" d="M8 5h1M2 48h1M12 48h1M4 58h1M16 68h3M4 118h1M6 241h1M11 241h1M16 251h1M12 261h1M1 271h2M13 271h3M20 271h1M0 281h2M7 281h2M2 311h1M6 311h1M9 321h1M15 321h1M6 331h1M15 331h1M8 351h1M1 364h1M10 364h1M14 364h1M18 364h1M9 374h1M17 374h1M11 384h2M0 394h2M20 394h1M3 404h1M7 404h2M10 404h2M13 404h1"/><path stroke="#f10000" d="M1 48h1M13 48h1M19 48h1M5 68h1M12 88h1M17 88h2M17 148h1M16 188h1M16 241h1M19 241h1M8 251h1M10 251h1M18 251h1M11 261h1M13 261h1M15 261h1M18 261h2M14 291h2M1 311h1M10 311h1M13 311h1M10 321h1M8 331h1M2 351h1M4 364h2M9 364h1M16 364h1M19 364h2M7 374h1M18 374h2M2 394h1M12 394h1M16 394h1M14 404h1M19 404h1M12 414h1M16 414h1"/><path stroke="#c40000" d="M6 5h1M16 58h1M18 78h1M12 108h1M0 241h1M7 241h3M13 241h1M15 241h1M1 251h1M3 251h4M11 251h1M13 251h2M19 251h1M2 261h1M8 261h1M7 271h1M11 271h1M10 301h1M5 311h1M20 331h1M0 364h1M3 364h1M12 364h1M2 374h1M4 374h2M13 374h1M16 374h1M0 404h2M18 404h1M20 404h1M17 424h1"/><path stroke="#970000" d="M4 48h2M11 48h1M16 48h3M16 138h1M1 241h1M10 241h1M12 241h1M14 241h1M20 241h1M0 251h1M2 251h1M7 251h1M9 251h1M12 251h1M15 251h1M20 251h1M1 261h1M6 261h1M0 271h1M6 271h1M5 281h2M13 281h3M18 281h1M6 291h1M6 301h1M11 311h1M14 311h1M1 341h1M11 341h1M12 374h1M17 384h2M17 394h1M5 404h1M16 404h2"/></g>
<g transform="translate(226.1 890.1) scale(5.2262 1.5780)" fill="none" stroke-width="10.1"><path stroke="#0000a8" d="M64 208h1M24 241h1M35 251h1M4 261h1M46 281h1M4 291h1M13 291h1M35 291h1M39 291h1M50 291h1M35 311h1M4 331h1M9 331h1M39 331h1M9 341h1M42 351h2M57 351h1M3 374h1M17 374h1M31 374h1M49 374h1M6 404h1M33 404h1M52 404h1M1 434h1M6 434h1M12 434h1M33 434h1M38 434h1M40 434h1M51 434h2M55 434h1"/><path stroke="#0000db" d="M62 178h1M55 198h1M62 208h1M0 251h1M24 291h1M48 291h1M24 331h1M60 331h1M38 341h1M46 341h1M12 374h1M25 374h1M47 374h1M7 424h1M3 434h1M8 434h1M16 434h1M25 434h1M29 434h1M32 434h1M34 434h1M36 434h2M47 434h1M62 434h1M64 434h1"/><path stroke="#000fff" d="M62 188h1M52 208h1M56 208h1M63 208h1M49 228h1M53 228h1M22 251h1M24 271h1M34 281h2M41 281h1M27 291h1M4 301h1M24 301h1M57 311h1M4 321h1M26 331h2M46 331h1M57 331h1M4 341h1M24 341h1M35 341h1M48 341h1M50 341h1M19 351h1M34 351h2M58 351h1M14 374h1M63 374h1M12 394h1M1 404h1M16 404h1M29 404h1M59 404h1M63 404h1M1 424h1M22 424h1M36 424h1M18 434h1M28 434h1M41 434h1M45 434h1"/><path stroke="#0042ff" d="M48 15h1M56 25h2M59 198h1M36 208h1M52 218h1M63 228h1M39 271h1M0 281h1M59 281h2M37 291h1M42 291h2M9 301h1M34 301h1M24 311h1M39 311h1M17 321h1M30 321h1M3 331h1M13 331h1M21 331h1M30 331h1M13 341h2M27 341h1M37 341h1M39 341h1M9 351h1M17 351h1M21 351h1M32 351h1M56 351h1M10 404h1M12 404h1M25 404h1M31 404h2M32 414h1M37 414h1M3 424h1M11 424h1M18 424h1M32 424h1M5 434h1M7 434h1M21 434h2M39 434h1M43 434h1M56 434h1M60 434h1"/><path stroke="#0075ff" d="M4 15h1M50 15h1M54 15h1M9 25h1M27 25h1M42 25h1M60 25h1M39 35h1M46 35h1M50 35h1M62 148h1M44 158h1M64 188h1M43 198h1M59 208h1M64 218h1M19 228h1M1 241h1M7 241h1M9 241h1M17 241h1M35 241h1M50 241h1M52 241h1M60 241h2M9 261h1M19 261h1M14 281h1M31 281h1M45 281h1M58 281h1M15 291h1M19 291h1M44 291h2M2 301h1M17 301h1M27 301h1M31 301h1M60 301h1M46 311h1M61 311h1M9 321h1M28 321h1M47 321h1M7 331h1M43 331h1M48 331h1M50 331h1M0 341h1M31 341h1M34 341h1M43 341h1M54 341h1M59 341h1M3 351h1M10 351h1M14 351h1M23 351h1M27 351h1M30 351h1M37 351h1M41 351h1M55 351h1M1 374h1M55 374h2M8 394h1M2 404h1M34 404h1M1 414h1M52 414h1M6 424h1M10 424h1M12 424h1M16 424h1M40 424h1M45 424h1M54 424h1M61 424h1M64 424h1M2 434h1M17 434h1M20 434h1M24 434h1M30 434h1M46 434h1M59 434h1"/><path stroke="#00a8ff" d="M6 15h1M13 15h1M44 15h1M49 15h1M17 25h1M30 25h1M29 35h1M42 35h1M51 35h1M56 35h1M60 35h1M62 35h1M1 148h1M20 148h1M34 148h1M51 148h1M61 148h1M9 158h1M24 158h1M35 158h1M39 158h1M42 168h1M51 168h1M57 168h1M62 168h1M14 178h1M47 178h1M64 178h1M25 188h1M61 188h1M47 198h1M52 198h1M0 208h1M4 208h1M35 208h1M53 208h1M61 208h1M0 218h1M28 218h1M50 218h1M59 218h1M9 228h1M22 228h1M46 228h1M60 228h1M2 241h2M14 241h1M21 241h1M34 241h1M45 241h1M2 251h1M24 251h1M37 251h1M48 251h1M0 271h1M13 271h1M26 271h1M56 271h1M53 281h1M9 291h1M22 291h1M30 291h1M32 291h1M38 291h1M53 291h1M59 291h1M13 301h1M21 301h1M23 301h1M32 301h1M46 301h1M59 301h1M4 311h1M9 311h1M22 311h1M58 311h1M15 321h1M57 321h1M61 321h1M23 331h1M35 331h1M37 331h1M41 331h2M61 331h1M64 331h1M8 341h1M10 341h1M21 341h1M26 341h1M42 341h1M44 341h1M47 341h1M57 341h1M64 341h1M8 351h1M22 351h1M25 351h1M28 351h1M39 351h1M44 351h1M48 351h2M1 364h1M29 374h1M36 374h1M44 374h1M53 374h1M64 374h1M12 384h1M16 384h1M52 384h1M2 394h1M5 394h1M60 394h1M63 394h1M15 404h1M40 404h1M64 404h1M3 414h1M8 414h1M55 414h1M61 414h1M0 424h1M14 424h1M21 424h1M29 424h1M37 424h1M44 424h1M46 424h1M52 424h2M58 424h1M62 424h1M0 434h1M11 434h1M15 434h1M26 434h2M42 434h1M44 434h1M53 434h1M57 434h1"/><path stroke="#00dbff" d="M9 15h1M30 15h1M57 15h1M44 25h1M48 25h1M50 25h1M58 25h2M1 35h1M24 35h1M40 35h1M13 138h1M24 138h1M29 138h1M5 148h2M19 148h1M25 148h1M60 148h1M48 158h1M51 158h1M59 158h1M33 168h1M52 168h1M64 168h1M52 178h1M17 188h1M33 188h1M35 188h1M49 188h1M51 188h1M60 188h1M4 198h1M63 198h2M12 208h1M29 208h1M37 208h1M48 208h1M50 208h1M33 218h2M46 218h1M62 218h1M17 228h1M21 228h1M52 228h1M59 228h1M0 241h1M4 241h1M15 241h2M25 241h1M37 241h1M14 251h1M14 261h1M30 261h1M35 261h1M41 261h1M46 261h1M2 271h1M15 271h1M17 271h1M35 271h1M48 271h1M5 281h1M9 281h1M30 281h1M33 281h1M42 281h1M47 281h1M7 291h1M34 291h1M46 291h1M57 291h1M60 291h1M5 301h1M15 301h1M28 301h1M39 301h1M43 301h1M45 301h1M48 301h1M56 301h3M0 311h1M15 311h1M25 311h1M31 311h1M41 311h2M44 311h1M50 311h1M60 311h1M13 321h1M31 321h1M43 321h1M45 321h1M50 321h1M55 321h1M58 321h1M62 321h1M0 331h1M8 331h1M14 331h5M25 331h1M31 331h1M34 331h1M40 331h1M47 331h1M52 331h1M58 331h2M63 331h1M16 341h2M19 341h1M23 341h1M29 341h1M32 341h1M41 341h1M45 341h1M55 341h1M63 341h1M4 351h1M24 351h1M29 351h1M31 351h1M38 351h1M45 351h1M47 351h1M59 351h3M12 364h1M11 374h1M18 374h1M24 374h1M26 374h1M28 374h1M39 374h1M41 374h1M8 384h1M14 384h1M29 384h1M36 384h1M38 384h1M63 384h1M18 394h1M32 394h1M36 394h1M40 394h1M55 394h1M3 404h1M7 404h1M14 404h1M18 404h1M26 404h1M51 404h1M2 414h1M25 414h1M29 414h1M45 414h1M53 414h1M8 424h1M19 424h2M23 424h1M34 424h1M39 424h1M49 424h1M51 424h1M56 424h1M59 424h1M14 434h1M19 434h1M23 434h1M31 434h1M49 434h1M58 434h1"/><path stroke="#0efff1" d="M0 15h1M21 15h1M23 15h1M34 15h1M39 15h1M41 15h2M34 25h1M43 25h1M53 25h1M4 35h1M37 35h1M43 35h2M64 35h1M12 78h1M19 98h1M12 148h1M55 148h1M8 158h1M53 158h1M1 168h1M3 168h1M23 168h1M36 168h1M45 168h1M54 168h1M1 178h1M29 178h1M19 188h1M32 188h1M45 188h1M5 198h2M11 198h1M26 198h1M39 198h1M44 198h1M56 198h1M62 198h1M21 208h1M26 208h1M49 208h1M51 208h1M55 208h1M60 208h1M7 218h1M16 218h1M25 218h1M39 218h1M61 218h1M4 228h1M18 228h1M35 228h2M48 228h1M50 228h1M55 228h2M61 228h1M64 228h1M22 241h2M41 241h1M53 241h2M9 251h1M15 251h1M27 251h1M42 251h1M21 261h1M38 261h1M9 271h1M14 271h1M19 271h1M27 271h1M30 271h1M58 271h1M17 281h1M38 281h1M48 281h1M50 281h1M0 291h1M2 291h1M5 291h1M18 291h1M55 291h1M64 291h1M3 301h1M14 301h1M22 301h1M41 301h1M44 301h1M47 301h1M54 301h1M14 311h1M23 311h1M51 311h1M1 321h2M10 321h1M19 321h1M21 321h1M24 321h1M27 321h1M40 321h2M44 321h1M59 321h2M5 331h1M19 331h1M28 331h1M38 331h1M44 331h1M54 331h1M56 331h1M62 331h1M1 341h3M28 341h1M33 341h1M36 341h1M52 341h1M58 341h1M62 341h1M0 351h1M2 351h1M13 351h1M15 351h1M26 351h1M46 351h1M51 351h3M64 351h1M7 364h1M18 364h1M7 374h1M15 374h1M2 384h1M6 384h1M10 384h1M32 384h1M44 384h1M51 384h1M61 384h1M7 394h1M28 394h1M49 394h1M5 404h1M36 404h2M50 404h1M60 404h1M62 404h1M7 414h1M10 414h1M12 414h1M18 414h1M23 414h1M26 414h1M31 414h1M36 414h1M39 414h1M43 414h1M54 414h1M63 414h2M2 424h1M25 424h1M30 424h2M33 424h1M41 424h1M43 424h1M47 424h1M55 424h1M9 434h2M13 434h1M54 434h1"/><path stroke="#3bffc4" d="M57 5h1M60 5h1M24 15h1M33 15h1M46 15h1M61 15h1M14 25h2M39 25h1M54 25h1M10 35h1M14 35h1M17 35h1M31 35h1M35 35h2M41 35h1M45 35h1M58 35h2M18 88h1M58 88h1M43 98h1M48 108h1M2 118h1M64 118h1M16 128h1M22 128h1M55 128h1M5 138h1M13 148h1M31 148h1M40 148h1M40 158h1M56 158h1M9 168h1M13 168h1M29 168h1M46 168h1M48 168h1M22 178h1M38 178h1M43 178h1M49 178h1M55 178h1M18 188h1M53 188h1M55 188h2M59 188h1M63 188h1M12 198h1M15 198h1M21 198h1M25 198h1M29 198h1M32 198h1M35 198h1M37 198h1M40 198h1M48 198h1M51 198h1M58 198h1M25 208h1M42 208h1M46 208h1M12 218h1M17 218h1M29 218h1M45 218h1M11 228h1M26 228h1M32 228h1M34 228h1M44 228h1M57 228h1M6 241h1M8 241h1M27 241h1M48 241h1M57 241h1M4 251h1M6 251h1M8 251h1M10 251h1M13 251h1M21 251h1M23 251h1M43 251h1M22 261h2M25 261h1M27 261h1M40 261h1M43 261h1M60 261h1M6 271h1M10 271h1M23 271h1M41 271h1M45 271h1M2 281h1M4 281h1M6 281h1M8 281h1M11 281h1M23 281h1M43 281h1M62 281h1M3 291h1M11 291h1M14 291h1M16 291h1M31 291h1M61 291h2M10 301h1M19 301h2M30 301h1M35 301h1M38 301h1M40 301h1M55 301h1M10 311h1M16 311h1M28 311h1M40 311h1M54 311h1M63 311h2M11 321h1M16 321h1M23 321h1M26 321h1M35 321h1M38 321h1M52 321h1M1 331h2M10 331h2M20 331h1M22 331h1M32 331h1M45 331h1M49 331h1M53 331h1M5 341h3M11 341h1M15 341h1M22 341h1M25 341h1M30 341h1M60 341h1M5 351h2M33 351h1M50 351h1M62 351h1M8 364h1M13 364h1M15 364h2M25 364h1M36 364h1M62 364h1M22 384h2M25 384h1M28 384h1M33 384h2M43 384h1M45 384h1M47 384h2M50 384h1M62 384h1M10 394h1M16 394h1M38 394h1M61 394h1M8 404h1M22 404h1M24 404h1M28 404h1M53 404h1M56 404h1M61 404h1M0 414h1M6 414h1M15 414h2M19 414h2M28 414h1M48 414h2M5 424h1M13 424h1M17 424h1M38 424h1M48 424h1M63 424h1M35 434h1M50 434h1M63 434h1"/><path stroke="#69ff97" d="M4 5h1M48 5h1M10 15h1M47 15h1M55 15h1M58 15h2M3 25h1M19 25h1M35 25h1M38 25h1M46 25h1M49 25h1M64 25h1M2 35h1M9 35h1M21 35h2M53 35h1M55 35h1M63 35h1M35 78h1M54 88h2M9 98h1M42 98h1M47 98h1M57 98h1M2 108h1M46 118h1M6 128h1M14 128h1M37 128h1M41 138h2M0 148h1M9 148h1M28 148h1M47 148h1M52 148h1M36 158h3M45 158h1M47 158h1M57 158h1M62 158h1M4 168h1M7 168h2M14 168h1M25 168h2M50 168h1M58 168h2M35 178h1M40 178h1M54 178h1M57 178h1M61 178h1M63 178h1M12 188h2M47 188h1M54 188h1M8 198h1M33 198h1M38 198h1M41 198h1M49 198h2M54 198h1M57 198h1M13 208h1M27 208h1M30 208h1M32 208h1M38 208h1M47 208h1M54 208h1M57 208h1M31 218h1M38 218h1M44 218h1M47 218h1M63 218h1M10 228h1M12 228h1M16 228h1M25 228h1M54 228h1M58 228h1M10 241h1M26 241h1M30 241h1M39 241h1M16 251h1M46 251h1M62 251h1M0 261h1M13 261h1M20 261h1M42 261h1M50 261h1M4 271h2M22 271h1M42 271h1M50 271h1M59 271h1M13 281h1M16 281h1M18 281h1M27 281h1M39 281h2M54 281h1M57 281h1M10 291h1M17 291h1M23 291h1M26 291h1M0 301h1M7 301h1M16 301h1M36 301h2M42 301h1M50 301h2M8 311h1M18 311h1M21 311h1M32 311h1M48 311h1M0 321h1M14 321h1M20 321h1M33 321h2M42 321h1M46 321h1M48 321h1M33 331h1M51 331h1M55 331h1M12 341h1M51 341h1M56 341h1M1 351h1M18 351h1M20 351h1M40 351h1M54 351h1M3 364h1M27 364h1M47 364h1M56 364h1M63 364h1M20 374h1M37 374h1M43 374h1M60 374h1M0 384h1M5 384h1M7 384h1M11 384h1M18 384h1M31 384h1M37 384h1M55 384h2M59 384h1M64 384h1M1 394h1M17 394h1M21 394h1M26 394h1M30 394h1M39 394h1M42 394h1M47 394h1M50 394h3M56 394h1M59 394h1M62 394h1M0 404h1M27 404h1M44 404h1M55 404h1M9 414h1M14 414h1M17 414h1M21 414h1M33 414h2M40 414h1M44 414h1M47 414h1M56 414h1M59 414h2M15 424h1M27 424h2M61 434h1"/><path stroke="#9aff65" d="M17 15h1M27 15h1M53 15h1M60 15h1M0 25h1M2 25h1M24 25h1M26 25h1M31 25h1M41 25h1M47 25h1M62 25h2M19 35h1M25 35h1M27 35h1M38 35h1M47 35h1M49 35h1M54 35h1M9 48h1M27 48h1M27 58h1M55 58h1M57 68h1M6 98h1M23 98h2M29 108h1M48 118h1M35 138h1M12 158h1M41 158h1M60 158h1M11 168h1M63 168h1M18 178h1M53 178h1M1 188h1M11 188h1M28 188h2M18 198h1M60 198h2M31 208h1M33 208h1M45 208h1M58 208h1M2 218h1M27 218h1M36 218h2M40 218h1M49 218h1M53 218h1M60 218h1M1 228h1M7 228h1M24 228h1M29 228h1M31 228h1M33 228h1M38 228h2M45 228h1M47 228h1M62 228h1M13 241h1M19 241h1M51 241h1M5 251h1M44 251h1M10 261h1M24 261h1M34 261h1M48 261h1M57 261h1M16 271h1M21 271h1M28 271h1M37 271h1M43 271h2M46 271h1M51 271h1M53 271h1M10 281h1M24 281h1M51 281h1M55 281h1M20 291h1M49 291h1M52 291h1M54 291h1M6 301h1M8 301h1M11 301h1M33 301h1M62 301h3M3 311h1M6 311h1M17 311h1M34 311h1M37 311h1M43 311h1M6 321h1M8 321h1M25 321h1M51 321h1M64 321h1M6 331h1M36 331h1M18 341h1M40 341h1M49 341h1M61 341h1M0 364h1M22 364h1M28 364h2M31 364h1M34 364h1M37 364h1M51 364h1M38 374h1M51 374h1M62 374h1M3 384h1M21 384h1M30 384h1M39 384h2M42 384h1M46 384h1M49 384h1M58 384h1M0 394h1M6 394h1M15 394h1M24 394h2M31 394h1M35 394h1M37 394h1M45 394h1M48 394h1M54 394h1M21 404h1M41 404h1M27 414h1M51 414h1M26 424h1M35 424h1M42 424h1M50 424h1M57 424h1M48 434h1"/><path stroke="#cfff30" d="M5 5h1M13 5h1M24 5h1M35 5h1M20 15h1M25 15h1M32 15h1M35 15h1M43 15h1M52 15h1M56 15h1M64 15h1M4 25h1M7 25h1M21 25h1M23 25h1M29 25h1M33 25h1M45 25h1M55 25h1M61 25h1M0 35h1M13 35h1M15 35h1M18 35h1M23 35h1M30 35h1M48 35h1M57 35h1M38 58h1M21 68h1M8 78h1M18 78h1M47 78h1M21 88h1M7 98h1M14 98h1M25 98h2M40 98h1M17 108h1M44 108h1M62 108h1M37 118h1M52 118h1M50 128h1M9 138h1M8 148h1M26 148h1M39 148h1M49 148h1M56 148h1M64 148h1M26 158h1M30 158h1M33 158h1M61 158h1M64 158h1M5 168h1M16 178h1M32 178h1M58 178h1M38 188h1M40 188h1M50 188h1M20 198h1M28 198h1M36 198h1M46 198h1M53 198h1M19 208h1M22 208h1M39 208h1M3 218h1M11 218h1M20 218h1M30 218h1M41 218h2M58 218h1M2 228h1M23 228h1M27 228h2M37 228h1M40 228h1M40 241h1M3 251h1M17 251h1M19 251h1M45 251h1M58 251h1M1 261h1M5 261h1M7 261h1M53 261h1M8 271h1M29 271h1M32 271h3M47 271h1M54 271h2M57 271h1M7 281h1M21 281h2M26 281h1M28 281h1M44 281h1M49 281h1M52 281h1M56 281h1M64 281h1M6 291h1M25 291h1M28 291h1M58 291h1M29 301h1M53 301h1M7 311h1M26 311h1M30 311h1M33 311h1M55 311h2M12 321h1M22 321h1M32 321h1M53 321h1M56 321h1M12 331h1M29 331h1M20 341h1M11 351h2M16 351h1M63 351h1M2 364h1M6 364h1M10 364h1M40 364h1M42 364h1M44 364h1M49 364h1M52 364h1M55 364h1M60 364h1M64 364h1M2 374h1M21 374h1M27 374h1M33 374h1M40 374h1M9 384h1M15 384h1M19 384h1M24 384h1M26 384h1M53 384h1M11 394h1M14 394h1M20 394h1M27 394h1M41 394h1M64 394h1M49 404h1M58 404h1M11 414h1M13 414h1M22 414h1M30 414h1M62 414h1M4 424h1M24 424h1M60 424h1M4 434h1"/><path stroke="#fffa00" d="M31 5h1M42 5h1M45 5h1M55 5h2M63 5h1M19 15h1M26 15h1M31 15h1M45 15h1M62 15h1M11 25h1M13 25h1M32 25h1M40 25h1M51 25h1M11 35h1M32 35h3M52 35h1M61 35h1M30 48h1M36 58h1M4 78h1M14 78h1M29 88h1M1 98h1M36 98h1M18 108h1M63 108h1M33 118h1M35 118h1M58 118h2M7 148h1M21 148h1M33 148h1M42 148h1M46 148h1M53 148h1M63 148h1M3 158h1M6 158h1M11 158h1M18 158h1M29 158h1M50 158h1M6 168h1M12 168h1M18 168h1M49 168h1M30 178h1M36 178h1M45 178h1M59 178h1M5 188h1M15 188h2M20 188h1M36 188h1M44 188h1M52 188h1M58 188h1M7 198h1M13 198h1M45 198h1M16 208h1M18 208h1M41 208h1M1 218h1M5 218h1M13 218h1M23 218h1M26 218h1M51 218h1M55 218h1M57 218h1M3 228h1M5 228h2M14 228h1M20 228h1M30 228h1M41 228h1M43 228h1M29 241h1M42 241h1M46 241h1M29 251h1M15 261h2M18 261h1M51 261h1M56 261h1M64 261h1M3 271h1M11 271h1M31 271h1M49 271h1M61 271h1M12 281h1M19 281h2M29 281h1M63 281h1M12 291h1M21 291h1M40 291h1M56 291h1M1 301h1M18 301h1M61 301h1M5 311h1M13 311h1M38 311h1M52 311h2M3 321h1M29 321h1M37 321h1M39 321h1M49 321h1M53 341h1M7 351h1M20 364h1M39 364h1M41 364h1M46 364h1M50 364h1M58 364h2M23 374h1M32 374h1M34 374h1M42 374h1M46 374h1M48 374h1M58 374h2M1 384h1M41 384h1M57 384h1M19 394h1M29 394h1M53 394h1M58 394h1M38 404h2M45 404h1M47 404h1M5 414h1M38 414h1M46 414h1M57 414h1"/><path stroke="#ffc500" d="M19 5h1M29 5h1M38 5h1M43 5h2M46 5h1M50 5h1M52 5h1M54 5h1M8 15h1M15 15h1M28 15h1M38 15h1M40 15h1M51 15h1M10 25h1M22 25h1M25 25h1M6 35h1M12 35h1M16 35h1M28 35h1M3 48h1M43 48h1M47 48h1M7 58h1M43 58h1M57 58h1M2 68h1M8 68h1M29 68h1M33 68h1M15 78h1M7 88h1M25 88h1M33 88h1M0 98h1M12 98h1M29 98h1M35 98h1M12 108h1M14 108h1M21 108h1M35 108h1M12 118h1M19 118h1M24 118h1M62 128h1M10 138h1M23 138h1M18 148h1M22 148h1M45 148h1M48 148h1M16 158h1M20 168h1M38 168h1M60 168h2M8 178h1M12 178h1M21 178h1M23 178h1M51 178h1M27 188h1M30 188h1M34 188h1M57 188h1M14 198h1M23 198h1M2 208h1M6 208h1M15 208h1M20 208h1M40 208h1M6 218h1M14 218h2M19 218h1M21 218h2M32 218h1M56 218h1M15 228h1M28 241h1M11 251h1M25 251h2M50 251h1M2 261h1M32 261h1M45 261h1M52 261h1M58 261h1M7 271h1M20 271h1M38 271h1M40 271h1M3 281h1M25 281h1M37 281h1M8 291h1M36 291h1M41 291h1M47 291h1M51 291h1M25 301h1M49 301h1M1 311h1M12 311h1M19 311h1M36 311h1M47 311h1M5 321h1M18 321h1M63 321h1M5 364h1M11 364h1M17 364h1M30 364h1M57 364h1M0 374h1M16 374h1M45 374h1M52 374h1M61 374h1M17 384h1M20 384h1M35 384h1M43 394h1M11 404h1M42 404h1M42 414h1M50 414h1M58 414h1M9 424h1"/><path stroke="#ff8f00" d="M9 5h1M15 5h1M22 5h2M25 5h1M27 5h2M32 5h1M37 5h1M41 5h1M59 5h1M62 5h1M2 15h2M5 15h1M12 15h1M14 15h1M18 15h1M29 15h1M37 15h1M5 25h2M8 25h1M37 25h1M3 35h1M5 35h1M20 35h1M7 48h1M12 48h1M29 48h1M35 48h1M2 58h1M6 58h1M13 58h1M18 58h1M53 58h1M62 58h1M12 68h1M38 68h2M44 68h1M11 78h1M63 78h1M6 88h1M9 88h1M11 88h2M38 88h1M49 88h1M11 98h1M16 98h1M28 98h1M53 98h1M6 108h1M31 108h2M4 118h1M8 118h1M11 118h1M36 128h1M42 128h1M11 138h2M16 138h1M18 138h1M53 138h1M11 148h1M16 148h2M27 148h1M29 148h1M36 148h1M38 148h1M21 158h1M52 158h1M55 158h1M28 168h1M40 168h1M43 168h1M28 178h1M50 178h1M60 178h1M22 188h2M39 188h1M41 188h1M10 198h1M16 198h1M27 198h1M30 198h1M34 198h1M42 198h1M5 208h1M14 208h1M28 208h1M34 208h1M10 218h1M18 218h1M48 218h1M8 228h1M42 228h1M51 228h1M5 241h1M12 241h1M43 241h2M55 241h1M28 251h1M31 251h1M53 251h1M57 251h1M8 261h1M11 261h2M37 261h1M39 261h1M44 261h1M47 261h1M54 261h1M62 261h1M36 271h1M62 271h1M64 271h1M15 281h1M33 291h1M63 291h1M12 301h1M52 301h1M2 311h1M11 311h1M20 311h1M29 311h1M49 311h1M59 311h1M36 321h1M54 321h1M21 364h1M26 364h1M32 364h2M38 364h1M54 364h1M61 364h1M6 374h1M8 374h1M10 374h1M13 374h1M22 374h1M54 374h1M57 374h1M27 384h1M3 394h1M13 394h1M33 394h2M13 404h1M17 404h1"/><path stroke="#ff5a00" d="M0 5h1M10 5h1M17 5h1M30 5h1M39 5h1M49 5h1M61 5h1M64 5h1M22 15h1M63 15h1M1 25h1M12 25h1M16 25h1M18 25h1M8 35h1M26 35h1M8 48h1M16 48h1M31 48h1M50 48h1M62 48h1M3 58h1M11 58h1M32 58h1M42 58h1M48 58h1M7 68h1M11 68h1M16 68h1M18 68h1M42 68h1M56 68h1M1 78h2M5 78h1M9 78h1M25 78h1M29 78h1M0 88h1M14 88h1M22 88h1M31 88h1M36 88h1M51 88h2M61 88h1M63 88h2M8 98h1M18 98h1M20 98h1M50 98h1M52 98h1M62 98h1M7 108h2M26 108h1M36 108h1M39 108h1M64 108h1M7 118h1M22 118h1M28 118h1M41 118h1M59 128h1M0 138h2M8 138h1M21 138h1M25 138h3M33 138h1M36 138h1M38 138h1M45 138h1M55 138h1M58 138h1M61 138h1M10 148h1M30 148h1M43 148h1M59 148h1M2 158h1M7 158h1M19 158h1M28 158h1M49 158h1M0 168h1M15 168h1M17 168h1M34 168h1M41 168h1M44 168h1M47 168h1M55 168h1M20 178h1M37 178h1M39 178h1M46 178h1M31 188h1M42 188h2M46 188h1M48 188h1M0 198h2M19 198h1M31 198h1M8 208h1M10 208h1M23 208h1M44 208h1M4 218h1M8 218h1M54 218h1M0 228h1M18 241h1M20 241h1M32 241h1M47 241h1M58 241h1M20 251h1M30 251h1M33 251h1M54 251h1M59 251h1M3 261h1M29 261h1M31 261h1M33 261h1M55 261h1M18 271h1M25 271h1M63 271h1M1 281h1M61 281h1M29 291h1M27 311h1M7 321h1M36 351h1M4 364h1M14 364h1M24 364h1M43 364h1M45 364h1M53 364h1M19 374h1M35 374h1M13 384h1M54 384h1M4 394h1M20 404h1M46 404h1M48 404h1M57 404h1M4 414h1M24 414h1M41 414h1"/><path stroke="#ff2500" d="M8 5h1M18 5h1M20 5h1M47 5h1M7 15h1M11 15h1M20 25h1M36 25h1M52 25h1M7 35h1M2 48h1M18 48h1M25 48h1M32 48h1M45 48h1M53 48h1M0 58h1M16 58h1M22 58h1M26 58h1M34 58h1M47 58h1M5 68h2M10 68h1M43 68h1M3 78h1M26 78h1M28 78h1M40 78h1M49 78h1M61 78h1M15 88h1M19 88h2M37 88h1M47 88h1M56 88h1M60 88h1M2 98h2M21 98h1M32 98h1M38 98h1M45 98h1M49 98h1M9 108h1M13 108h1M16 108h1M55 108h1M59 108h1M1 118h1M10 118h1M20 118h1M25 118h1M50 118h1M53 118h1M55 118h1M3 128h1M11 128h3M25 128h1M52 128h1M60 128h1M64 128h1M2 138h1M7 138h1M15 138h1M17 138h1M19 138h2M28 138h1M34 138h1M51 138h1M64 138h1M3 148h1M41 148h1M54 148h1M1 158h1M5 158h1M10 158h1M42 158h2M54 158h1M16 168h1M22 168h1M32 168h1M53 168h1M56 168h1M44 178h1M56 178h1M8 188h1M26 188h1M2 198h1M1 208h1M11 208h1M13 228h1M11 241h1M31 241h1M7 251h1M32 251h1M6 261h1M17 261h1M26 261h1M49 261h1M61 261h1M12 271h1M60 271h1M32 281h1M26 301h1M45 311h1M9 364h1M35 364h1M4 384h1M60 384h1M9 394h1M22 394h2M19 404h1"/><path stroke="#f10000" d="M2 5h2M14 5h1M21 5h1M33 5h2M40 5h1M51 5h1M53 5h1M58 5h1M1 15h1M28 25h1M22 48h1M33 48h1M36 48h1M44 48h1M52 48h1M55 48h1M59 48h1M64 48h1M12 58h1M15 58h1M19 58h1M29 58h1M31 58h1M33 58h1M46 58h1M59 58h1M17 68h1M22 68h1M51 68h1M55 68h1M64 68h1M6 78h1M10 78h1M16 78h2M23 78h1M27 78h1M31 78h1M36 78h1M41 78h1M43 78h1M52 78h1M60 78h1M2 88h1M8 88h1M10 88h1M30 88h1M34 88h1M39 88h1M41 88h1M43 88h2M50 88h1M59 88h1M44 98h1M56 98h1M58 98h2M5 108h1M11 108h1M20 108h1M25 108h1M30 108h1M33 108h1M40 108h1M51 108h2M6 118h1M40 118h1M49 118h1M61 118h2M5 128h1M17 128h1M30 128h2M34 128h1M38 128h1M43 128h1M47 128h1M61 128h1M3 138h2M6 138h1M14 138h1M22 138h1M31 138h2M40 138h1M46 138h2M52 138h1M54 138h1M56 138h2M59 138h1M62 138h1M15 148h1M37 148h1M20 158h1M23 158h1M25 158h1M31 158h2M58 158h1M63 158h1M21 168h1M37 168h1M7 178h1M11 178h1M31 178h1M48 178h1M2 188h1M17 198h1M22 198h1M3 208h1M43 208h1M43 218h1M56 241h1M1 251h1M38 251h2M51 251h1M63 251h1M28 261h1M63 261h1M52 271h1M36 281h1M62 311h1M48 364h1M9 374h1M46 394h1M30 404h1M35 414h1"/><path stroke="#c40000" d="M11 5h1M26 5h1M1 48h1M5 48h1M10 48h1M14 48h2M17 48h1M21 48h1M23 48h1M38 48h1M40 48h1M51 48h1M57 48h1M61 48h1M20 58h1M25 58h1M39 58h2M44 58h1M49 58h1M51 58h1M54 58h1M56 58h1M1 68h1M13 68h1M15 68h1M20 68h1M26 68h1M28 68h1M32 68h1M36 68h1M63 68h1M20 78h2M34 78h1M38 78h1M44 78h1M46 78h1M62 78h1M23 88h2M28 88h1M32 88h1M40 88h1M62 88h1M10 98h1M17 98h1M22 98h1M30 98h1M39 98h1M51 98h1M63 98h1M0 108h1M19 108h1M22 108h2M37 108h2M53 108h1M56 108h2M60 108h2M0 118h1M17 118h1M21 118h1M29 118h1M34 118h1M36 118h1M43 118h1M56 118h1M63 118h1M1 128h1M7 128h1M10 128h1M18 128h1M20 128h1M23 128h1M28 128h1M40 128h1M48 128h1M53 128h1M58 128h1M63 128h1M39 138h1M43 138h1M48 138h3M60 138h1M63 138h1M2 148h1M24 148h1M13 158h1M22 158h1M10 168h1M39 168h1M0 178h1M2 178h1M19 178h1M26 178h1M41 178h1M3 188h1M6 188h2M9 188h2M21 188h1M37 188h1M3 198h1M17 208h1M9 218h1M24 218h1M38 241h1M59 241h1M36 251h1M40 251h1M55 251h2M61 251h1M36 261h1M19 364h1M23 364h1M50 374h1M44 394h1M57 394h1M35 404h1"/><path stroke="#970000" d="M1 5h1M6 5h2M12 5h1M16 5h1M36 5h1M16 15h1M36 15h1M0 48h1M4 48h1M6 48h1M11 48h1M13 48h1M19 48h2M24 48h1M26 48h1M28 48h1M34 48h1M37 48h1M39 48h1M41 48h2M46 48h1M48 48h2M54 48h1M56 48h1M58 48h1M60 48h1M63 48h1M1 58h1M4 58h2M8 58h3M14 58h1M17 58h1M21 58h1M23 58h2M28 58h1M30 58h1M35 58h1M37 58h1M41 58h1M45 58h1M50 58h1M52 58h1M58 58h1M60 58h2M63 58h2M0 68h1M3 68h2M9 68h1M14 68h1M19 68h1M23 68h3M27 68h1M30 68h2M34 68h2M37 68h1M40 68h2M45 68h6M52 68h3M58 68h5M0 78h1M7 78h1M13 78h1M19 78h1M22 78h1M24 78h1M30 78h1M32 78h2M37 78h1M39 78h1M42 78h1M45 78h1M48 78h1M50 78h2M53 78h7M64 78h1M1 88h1M3 88h3M13 88h1M16 88h2M26 88h2M35 88h1M42 88h1M45 88h2M48 88h1M53 88h1M57 88h1M4 98h2M13 98h1M15 98h1M27 98h1M31 98h1M33 98h2M37 98h1M41 98h1M46 98h1M48 98h1M54 98h2M60 98h2M64 98h1M1 108h1M3 108h2M10 108h1M15 108h1M24 108h1M27 108h2M34 108h1M41 108h3M45 108h3M49 108h2M54 108h1M58 108h1M3 118h1M5 118h1M9 118h1M13 118h4M18 118h1M23 118h1M26 118h2M30 118h3M38 118h2M42 118h1M44 118h2M47 118h1M51 118h1M54 118h1M57 118h1M60 118h1M0 128h1M2 128h1M4 128h1M8 128h2M15 128h1M19 128h1M21 128h1M24 128h1M26 128h2M29 128h1M32 128h2M35 128h1M39 128h1M41 128h1M44 128h3M49 128h1M51 128h1M54 128h1M56 128h2M30 138h1M37 138h1M44 138h1M4 148h1M14 148h1M23 148h1M32 148h1M35 148h1M44 148h1M50 148h1M57 148h2M0 158h1M4 158h1M14 158h2M17 158h1M27 158h1M34 158h1M46 158h1M2 168h1M19 168h1M24 168h1M27 168h1M30 168h2M35 168h1M3 178h4M9 178h2M13 178h1M15 178h1M17 178h1M24 178h2M27 178h1M33 178h2M42 178h1M0 188h1M4 188h1M14 188h1M24 188h1M9 198h1M24 198h1M7 208h1M9 208h1M24 208h1M35 218h1M33 241h1M36 241h1M49 241h1M62 241h3M12 251h1M18 251h1M34 251h1M41 251h1M47 251h1M49 251h1M52 251h1M60 251h1M64 251h1M59 261h1M1 271h1M1 291h1M4 374h2M30 374h1M4 404h1M9 404h1M23 404h1M43 404h1M54 404h1"/></g>
<g transform="translate(662 890.1) scale(5.2381 1.5780)" fill="none" stroke-width="10.1"><path stroke="#00d400" d="M7 188h1M4 271h1M13 291h1M11 341h1M15 341h1M1 351h1M16 404h1M19 434h1"/><path stroke="#00e100" d="M0 5h1M20 5h1M18 48h1M6 98h1M2 128h1M7 128h1M13 128h1M2 241h1M7 241h1M15 241h1M0 251h1M4 251h1M0 261h1M3 261h1M5 261h1M13 261h1M17 261h2M11 271h1M11 291h1M20 291h1M5 301h1M9 301h1M16 301h1M8 321h2M15 321h1M19 321h1M5 331h1M16 331h2M3 341h1M5 341h1M7 341h1M13 341h1M17 341h4M0 351h1M3 351h1M11 351h1M2 364h1M7 364h2M16 374h1M1 384h1M4 384h1M17 384h1M7 394h1M11 394h1M16 394h1M8 404h1M17 404h1M3 414h2M10 414h1M15 414h1M0 424h1M2 424h1M16 424h1M1 434h1M8 434h1M15 434h1"/><path stroke="#02ea02" d="M20 25h1M20 35h1M0 48h1M3 78h1M6 108h1M20 108h1M20 118h1M7 178h1M19 241h1M1 251h1M6 251h1M16 251h1M4 261h1M9 261h1M14 261h1M19 261h1M12 271h1M8 281h1M4 291h1M17 291h1M1 301h2M13 301h1M11 321h1M7 331h1M11 331h1M14 341h1M7 351h1M19 351h1M0 364h1M3 364h1M6 364h1M15 364h1M18 364h1M3 374h1M10 374h1M13 374h1M20 384h1M9 394h1M17 394h1M3 404h1M6 404h1M9 404h1M12 404h1M20 404h1M11 414h1M6 424h1M11 424h1M13 424h1M15 424h1M4 434h1M9 434h1M16 434h1"/><path stroke="#06ed06" d="M7 15h1M9 15h1M14 15h2M20 15h1M2 78h1M7 108h1M14 118h1M16 128h1M18 128h1M20 148h1M0 178h1M12 178h1M16 178h1M6 208h1M0 218h1M20 218h1M5 241h2M8 241h1M10 241h2M13 241h1M16 241h2M20 241h1M10 251h1M13 251h2M18 251h1M20 251h1M7 261h1M10 261h1M1 271h1M9 271h1M13 271h1M16 271h1M16 281h1M6 291h1M19 291h1M4 301h1M7 301h1M6 321h1M12 321h1M20 321h1M4 331h1M6 331h1M8 331h1M13 331h1M18 331h1M12 351h1M16 351h1M1 364h1M9 364h1M17 364h1M5 374h1M10 384h1M16 384h1M19 384h1M3 394h2M15 394h1M4 404h1M13 404h1M18 404h2M14 414h1M3 424h1"/><path stroke="#0ef00e" d="M15 48h1M12 58h1M7 148h1M7 218h1M17 251h1M20 364h1"/><path stroke="#3af33a" d="M3 98h1M15 128h1M10 198h1M17 198h1M11 218h1M3 241h1M6 301h1M5 311h1M14 331h1M8 341h1M4 364h1"/><path stroke="#66f666" d="M1 68h1M16 68h1M6 78h1M14 128h1M0 148h2M4 148h1M1 188h1M12 188h1M14 208h1M14 291h1M11 311h3M20 311h1M1 331h1M4 341h1M6 341h1M10 341h1M18 351h1M1 374h1M8 374h1M8 394h1M4 424h1"/><path stroke="#92f892" d="M17 5h1M7 25h1M14 25h1M7 35h1M14 35h1M1 58h1M7 58h1M19 58h1M5 78h1M16 78h1M18 78h1M17 88h1M5 98h1M7 98h1M20 98h1M8 148h1M10 148h1M12 148h2M14 158h1M14 168h1M8 178h1M15 198h1M18 208h1M13 218h2M17 218h1M14 228h1M18 241h1M9 251h1M8 261h1M0 271h1M3 271h1M0 281h1M5 281h1M11 301h1M4 311h1M16 311h2M19 311h1M2 321h1M13 321h1M10 331h1M15 331h1M4 351h1M10 351h1M13 351h1M13 394h1M5 414h1M12 414h1M1 424h1"/><path stroke="#bdfbbd" d="M4 5h1M7 48h1M13 48h1M16 48h1M15 68h1M9 98h1M13 98h1M15 108h1M11 118h1M2 138h1M4 138h1M6 138h1M8 138h1M13 138h1M19 138h1M2 148h1M5 178h1M10 178h1M14 178h2M0 188h1M16 188h1M4 241h1M12 241h1M12 251h1M19 251h1M6 261h1M20 261h1M5 271h1M8 271h1M6 281h1M17 281h1M2 291h1M12 301h1M14 301h1M1 311h1M6 311h2M9 311h1M15 311h1M18 311h1M5 321h1M7 321h1M16 321h2M12 331h1M16 341h1M17 374h1M5 384h1M11 384h1M14 384h1M2 394h1M10 394h1M19 394h1M0 404h1M7 424h1M10 424h1M17 424h1M19 424h1M20 434h1"/><path stroke="#e9fee9" d="M2 5h1M5 5h1M3 15h1M8 15h1M19 15h1M14 48h1M8 58h1M16 58h1M18 58h1M12 68h1M4 78h1M12 78h1M20 78h1M3 88h1M17 108h1M9 118h1M15 118h1M1 128h1M10 128h1M0 138h2M3 138h1M7 138h1M9 138h1M11 138h2M14 138h2M17 138h2M20 138h1M16 148h1M13 158h1M13 168h1M18 178h1M6 188h1M17 188h1M0 198h2M7 198h1M20 208h1M4 218h1M16 218h1M13 228h1M0 241h1M14 241h1M2 251h1M5 251h1M11 261h1M16 261h1M2 271h1M6 271h1M15 271h1M4 281h1M7 281h1M10 281h1M12 281h4M19 281h2M15 291h1M3 301h1M17 301h1M3 311h1M8 311h1M10 311h1M14 311h1M0 321h1M18 321h1M9 331h1M2 351h1M5 364h1M0 374h1M7 374h1M12 374h1M14 374h1M0 394h1M5 394h1M12 394h1M18 394h1M5 404h1M15 404h1M18 414h2M9 424h1M18 424h1M7 434h1M10 434h1M13 434h1"/><path stroke="#fdf0ea" d="M3 5h1M6 5h1M14 5h1M18 5h1M4 15h1M6 15h1M10 15h2M3 25h1M6 25h1M11 25h1M13 25h1M15 25h1M3 35h1M6 35h1M11 35h1M13 35h1M15 35h1M2 58h1M13 58h1M9 68h1M1 78h1M8 78h1M17 98h1M19 98h1M0 108h1M2 108h1M10 108h1M19 108h1M7 118h1M10 118h1M16 118h1M19 128h1M5 138h1M10 138h1M14 148h1M19 148h1M9 158h1M9 168h1M13 178h1M20 178h1M2 188h1M13 188h1M5 198h1M14 198h1M16 198h1M3 208h1M8 208h1M10 208h1M12 208h1M16 208h1M1 218h1M15 218h1M9 228h1M3 251h1M1 261h1M12 261h1M14 271h1M3 281h1M11 281h1M18 281h1M7 291h1M9 291h2M16 291h1M10 301h1M18 301h1M0 311h1M3 321h2M14 321h1M0 331h1M20 331h1M1 341h1M9 341h1M15 351h1M11 364h3M4 374h1M15 374h1M19 374h2M9 384h1M1 394h1M20 394h1M2 404h1M10 404h1M8 414h1M20 414h1M14 424h1M3 434h1"/><path stroke="#fad1c1" d="M19 5h1M17 15h1M5 25h1M5 35h1M9 48h1M17 58h1M0 68h1M18 68h1M0 78h1M7 78h1M14 78h1M0 88h1M20 88h1M16 98h1M9 108h1M14 108h1M4 128h1M17 128h1M20 128h1M15 148h1M11 158h1M11 168h1M9 178h1M3 198h1M11 198h3M4 208h1M7 208h1M11 208h1M15 208h1M17 208h1M12 218h1M11 228h1M1 241h1M9 241h1M7 251h1M11 251h1M17 271h1M19 271h1M9 281h1M1 291h1M3 291h1M0 301h1M8 301h1M19 331h1M5 351h1M8 351h2M17 351h1M10 364h1M16 364h1M7 384h1M13 384h1M18 384h1M6 394h1M11 404h1M14 404h1M1 414h2M8 424h1M20 424h1M5 434h2"/><path stroke="#f7b298" d="M9 5h1M10 25h1M17 25h1M10 35h1M17 35h1M4 48h1M10 48h1M13 68h1M15 78h1M2 88h1M5 88h1M9 88h1M10 98h1M14 98h1M4 108h1M7 158h1M7 168h1M3 178h1M8 198h1M5 218h1M7 228h1M8 251h1M18 271h1M1 281h1M8 291h1M12 291h1M15 301h1M2 341h1M11 374h1M18 374h1M14 394h1M0 414h1M16 414h2M12 424h1M17 434h1"/><path stroke="#f4936f" d="M15 5h1M4 25h1M19 25h1M4 35h1M19 35h1M4 58h1M2 98h1M8 158h1M8 168h1M4 188h2M10 188h1M0 208h2M19 208h1M9 218h1M8 228h1M15 251h1M10 321h1M0 341h1M6 351h1M20 351h1M14 364h1M19 364h1M6 374h1M12 384h1M1 404h1M18 434h1"/><path stroke="#f17446" d="M5 15h1M0 25h1M0 35h1M3 68h1M17 78h1M10 88h1M12 98h1M2 118h1M12 158h1M15 158h1M17 158h1M12 168h1M15 168h1M17 168h1M12 228h1M15 228h1M17 228h1M5 291h1M1 321h1M15 384h1M5 424h1M2 434h1"/><path stroke="#ee551d" d="M2 25h1M2 35h1M10 158h1M10 168h1M15 188h1M8 218h1M10 228h1"/><path stroke="#eb4406" d="M12 5h1M0 15h1M18 15h1M2 48h1M6 48h1M12 48h1M19 48h2M9 58h1M11 58h1M4 68h1M20 68h1M11 78h1M13 78h1M1 88h1M8 88h1M12 88h1M15 88h1M18 88h1M0 98h2M5 108h1M8 108h1M18 108h1M8 118h1M5 128h2M8 128h1M11 128h1M16 138h1M11 148h1M2 158h1M4 158h1M19 158h1M2 168h1M4 168h1M19 168h1M11 178h1M17 178h1M8 188h1M11 188h1M14 188h1M18 188h1M4 198h1M9 198h1M18 198h1M2 228h1M4 228h1M19 228h1M10 271h1M2 281h1M18 291h1M2 311h1M14 351h1M0 384h1M3 384h1M7 414h1M13 414h1"/><path stroke="#e94202" d="M1 5h1M13 5h1M1 15h2M12 15h1M9 25h1M9 35h1M11 48h1M14 58h1M20 58h1M7 68h1M11 68h1M19 68h1M10 78h1M7 88h1M11 88h1M14 88h1M19 88h1M8 98h1M11 98h1M15 98h1M11 108h2M1 118h1M3 118h3M12 118h2M18 118h1M3 128h1M3 148h1M5 148h1M17 148h2M0 158h1M5 158h1M20 158h1M0 168h1M5 168h1M20 168h1M2 178h1M6 178h1M19 188h1M19 198h2M2 208h1M5 208h1M9 208h1M2 218h2M10 218h1M19 218h1M0 228h1M5 228h1M20 228h1M19 301h2M2 384h1M6 384h1M11 434h2M14 434h1"/><path stroke="#df3c03" d="M10 5h2M16 5h1M16 15h1M1 25h1M12 25h1M18 25h1M1 35h1M12 35h1M18 35h1M3 48h1M5 48h1M8 48h1M0 58h1M3 58h1M10 58h1M2 68h1M5 68h2M10 68h1M17 68h1M9 78h1M19 78h1M13 88h1M16 88h1M4 98h1M1 108h1M3 108h1M13 108h1M16 108h1M0 118h1M17 118h1M19 118h1M0 128h1M9 148h1M3 158h1M6 158h1M16 158h1M18 158h1M3 168h1M6 168h1M16 168h1M18 168h1M1 178h1M4 178h1M19 178h1M3 188h1M9 188h1M2 198h1M6 218h1M18 218h1M3 228h1M6 228h1M16 228h1M18 228h1M2 261h1M15 261h1M7 271h1M0 291h1M2 331h1M12 341h1M2 374h1M9 374h1M8 384h1M9 414h1"/><path stroke="#cd3409" d="M7 5h2M13 15h1M8 25h1M16 25h1M8 35h1M16 35h1M1 48h1M17 48h1M5 58h2M15 58h1M8 68h1M14 68h1M4 88h1M6 88h1M18 98h1M6 118h1M9 128h1M12 128h1M6 148h1M1 158h1M1 168h1M20 188h1M6 198h1M13 208h1M1 228h1M20 271h1M3 331h1M7 404h1M6 414h1M0 434h1"/></g>
<g transform="translate(777.6 890.1) scale(5.2338 1.5780)" fill="none" stroke-width="10.1"><path stroke="#00d400" d="M61 5h1M12 25h1M36 25h1M12 35h1M36 35h1M35 48h1M7 58h1M55 58h1M61 58h1M5 68h1M51 88h1M1 98h1M24 98h1M51 98h1M64 98h1M13 108h1M15 108h1M26 118h1M18 128h1M36 128h1M61 128h1M38 148h1M43 148h1M2 178h1M5 188h1M12 188h1M37 188h1M1 198h1M51 198h1M34 208h1M64 208h1M7 218h1M5 261h1M36 291h1M47 291h1M3 301h1M16 301h1M28 301h1M41 331h1M45 341h1M44 384h1M9 414h1"/><path stroke="#00e100" d="M2 5h1M8 5h1M13 5h1M23 5h1M26 5h1M58 5h1M62 5h1M4 15h1M10 15h1M15 15h1M26 15h2M30 15h2M37 15h1M41 15h1M52 15h1M61 15h1M64 15h1M6 25h1M40 25h1M54 25h1M56 25h1M6 35h1M40 35h1M54 35h1M56 35h1M23 48h1M31 48h1M55 48h2M61 48h1M63 48h1M1 58h2M10 58h1M13 58h2M20 58h2M30 58h3M38 58h1M40 58h1M44 58h2M48 58h1M58 58h1M62 58h2M1 68h1M9 68h1M23 68h2M39 68h1M52 68h1M58 68h1M63 68h2M0 78h1M15 78h2M24 78h1M32 78h1M51 78h1M55 78h1M59 78h1M0 88h1M7 88h1M12 88h1M20 88h1M24 88h1M35 88h1M41 88h1M44 88h1M63 88h1M0 98h1M28 98h1M41 98h1M44 98h1M48 98h1M52 98h1M1 108h1M58 108h1M0 118h1M3 118h1M6 118h1M20 118h2M24 118h1M32 118h1M49 118h2M55 118h1M61 118h1M1 128h1M16 128h1M19 128h1M22 128h4M37 128h1M41 128h1M54 128h1M22 178h2M26 178h1M63 178h1M0 188h1M20 188h1M23 188h1M26 188h1M32 188h1M44 188h1M52 188h2M4 198h1M16 198h1M23 198h1M40 198h1M47 198h1M49 198h1M61 198h1M4 208h1M8 208h1M10 208h2M17 208h2M26 208h1M28 208h1M33 208h1M39 208h1M45 208h1M54 208h1M56 208h1M60 208h1M4 218h1M10 218h1M13 218h1M19 218h1M26 218h1M33 218h1M35 218h1M40 218h2M43 218h1M52 218h1M35 241h1M52 241h1M20 251h1M30 251h1M33 251h1M59 251h1M17 271h1M61 271h1M8 281h1M31 291h1M50 291h1M63 291h1M9 301h2M51 301h1M36 311h1M42 311h1M49 311h1M5 321h1M3 331h2M9 331h2M55 331h1M6 341h1M32 341h2M44 341h1M62 341h1M19 351h1M53 351h1M7 374h1M22 374h1M20 384h1M36 384h1M6 394h1M10 394h1M19 394h1M22 394h2M28 394h1M48 394h1M59 394h1M15 404h1M24 404h1M30 404h1M42 404h1M61 404h1M5 414h1M15 414h4M60 414h1M1 424h1M34 424h1M36 424h1M41 424h1M49 424h1M30 434h1M44 434h1"/><path stroke="#02ea02" d="M29 5h1M34 5h1M1 15h1M5 15h1M12 15h2M17 15h1M19 15h3M28 15h1M43 15h1M51 15h1M57 15h1M63 15h1M2 25h2M11 25h1M13 25h1M20 25h2M25 25h1M27 25h1M45 25h1M58 25h2M63 25h1M2 35h2M11 35h1M13 35h1M20 35h2M25 35h1M27 35h1M45 35h1M58 35h2M63 35h1M13 48h1M27 48h1M39 48h1M43 48h2M51 48h3M62 48h1M12 58h1M22 58h1M26 58h1M47 58h1M56 58h1M12 68h1M15 68h1M22 68h1M28 68h1M41 68h1M53 68h1M57 68h1M60 68h1M1 78h1M3 78h1M14 78h1M40 78h2M50 78h1M53 78h2M1 88h1M4 88h1M14 88h1M25 88h1M28 88h1M43 88h1M57 88h1M64 88h1M11 98h1M13 98h1M18 98h1M20 98h1M25 98h1M30 98h2M34 98h1M37 98h1M39 98h2M53 98h1M56 98h2M10 108h1M27 108h1M32 108h1M41 108h1M45 108h1M57 108h1M5 118h1M17 118h1M22 118h1M39 118h1M44 118h2M53 118h1M57 118h1M21 128h1M29 128h1M55 128h1M59 128h1M56 148h1M6 178h2M9 178h1M11 178h1M13 178h1M16 178h1M18 178h1M31 178h1M42 178h1M48 178h1M52 178h1M64 178h1M2 188h1M4 188h1M13 188h1M15 188h1M27 188h1M43 188h1M49 188h1M64 188h1M7 198h1M10 198h2M20 198h1M27 198h1M48 198h1M52 198h3M59 198h1M62 198h1M64 198h1M1 208h1M9 208h1M13 208h2M19 208h1M30 208h1M35 208h1M41 208h1M43 208h1M50 208h1M55 208h1M61 208h1M2 218h1M11 218h1M14 218h1M18 218h1M21 218h1M46 218h1M48 218h1M60 218h1M62 218h1M3 241h1M19 241h1M64 241h1M2 251h1M5 251h1M32 251h1M34 251h1M42 251h1M56 251h1M63 251h1M8 261h1M17 261h1M40 291h1M46 291h1M48 291h1M23 301h1M37 301h1M49 301h1M52 301h1M54 301h1M8 311h1M30 321h1M49 321h1M7 331h1M20 331h1M24 331h2M38 331h1M46 331h1M53 331h1M0 341h1M7 341h1M21 341h1M40 341h1M61 341h1M64 341h1M27 351h1M39 351h1M14 364h1M36 364h1M45 364h1M47 364h1M57 364h1M42 374h1M49 374h1M14 384h1M40 384h1M48 384h1M2 394h1M11 394h1M14 394h1M30 394h1M52 394h1M57 394h1M63 394h1M8 404h1M1 414h1M29 414h1M44 414h1M21 434h2M35 434h1"/><path stroke="#06ed06" d="M4 5h1M7 5h1M14 5h1M17 5h1M19 5h1M37 5h2M44 5h1M52 5h1M60 5h1M11 15h1M14 15h1M18 15h1M29 15h1M39 15h1M56 15h1M1 25h1M4 25h1M7 25h1M10 25h1M22 25h2M26 25h1M31 25h1M34 25h2M38 25h2M50 25h1M52 25h2M55 25h1M62 25h1M1 35h1M4 35h1M7 35h1M10 35h1M22 35h2M26 35h1M31 35h1M34 35h2M38 35h2M50 35h1M52 35h2M55 35h1M62 35h1M0 48h2M17 48h1M25 48h1M28 48h1M37 48h1M41 48h2M50 48h1M54 48h1M6 58h1M17 58h1M19 58h1M27 58h1M34 58h1M41 58h1M52 58h2M0 68h1M2 68h3M6 68h1M11 68h1M13 68h1M17 68h1M25 68h1M27 68h1M30 68h1M34 68h1M4 78h1M13 78h1M18 78h1M33 78h1M39 78h1M43 78h1M46 78h1M48 78h1M61 78h2M5 88h1M10 88h2M13 88h1M18 88h1M21 88h1M50 88h1M54 88h1M62 88h1M2 98h1M22 98h2M26 98h1M36 98h1M38 98h1M43 98h1M46 98h1M54 98h1M59 98h1M62 98h1M4 108h1M18 108h1M20 108h1M26 108h1M28 108h1M37 108h1M44 108h1M51 108h1M54 108h2M9 118h1M19 118h1M30 118h1M38 118h1M58 118h1M0 128h1M3 128h2M12 128h2M28 128h1M39 128h1M44 128h2M47 128h1M50 128h1M56 128h2M55 138h1M55 148h1M0 178h1M3 178h2M12 178h1M15 178h1M19 178h1M24 178h1M28 178h2M39 178h3M44 178h1M54 178h2M57 178h1M3 188h1M7 188h1M17 188h2M29 188h1M41 188h1M46 188h1M57 188h1M0 198h1M3 198h1M12 198h2M15 198h1M17 198h1M24 198h3M31 198h1M33 198h1M43 198h1M60 198h1M7 208h1M12 208h1M21 208h1M25 208h1M27 208h1M37 208h1M52 208h1M0 218h1M5 218h1M8 218h1M12 218h1M24 218h1M27 218h1M53 218h1M55 218h1M61 218h1M63 218h1M2 241h1M5 241h1M8 241h1M37 241h1M53 241h1M4 251h1M16 251h1M25 251h1M38 251h1M49 251h1M51 251h1M12 261h1M30 261h1M35 261h1M31 271h1M34 271h1M15 301h1M22 301h1M31 301h1M40 301h1M56 301h1M11 311h1M0 321h1M36 321h1M40 321h1M1 331h1M14 331h1M21 331h1M16 341h2M48 341h1M32 351h1M34 351h1M58 351h1M6 364h1M8 364h1M12 364h1M31 364h1M34 364h1M48 364h2M64 364h1M2 374h1M53 374h1M32 384h1M45 384h1M64 384h1M1 394h1M9 394h1M21 394h1M19 404h1M25 404h1M55 404h1M21 414h3M27 414h1M46 414h1M50 414h1M7 424h1M21 424h1"/><path stroke="#0ef00e" d="M25 5h1M33 25h1M33 35h1M2 48h1M28 58h1M20 68h1M12 78h1M64 78h1M26 88h1M14 108h1M22 108h1M56 108h1M36 118h1M60 118h1M6 218h1M64 218h1M32 241h1M58 291h1M24 301h1M44 301h1M19 311h1M20 351h1M22 351h1M37 374h1M1 434h1"/><path stroke="#3af33a" d="M5 5h1M18 5h1M57 5h1M64 5h1M0 15h1M5 48h1M11 48h1M57 48h1M45 68h1M25 78h1M32 98h1M24 108h1M7 118h1M14 118h1M6 148h1M15 148h1M21 148h1M28 148h1M31 148h1M36 148h1M58 148h2M22 158h1M42 158h1M48 158h1M22 168h1M42 168h1M48 168h1M25 178h1M32 178h1M44 198h1M15 208h1M46 208h1M22 228h1M42 228h1M48 228h1M51 241h1M57 291h1M7 301h1M12 311h1M26 311h1M40 311h1M1 351h1M28 351h1M19 364h1M28 384h1M38 384h1M47 404h1M42 414h1M59 414h1M4 424h1M53 424h1M61 424h1"/><path stroke="#66f666" d="M10 5h2M20 5h1M41 5h1M16 15h1M32 15h1M35 15h2M38 15h1M50 15h1M9 25h1M24 25h1M28 25h1M42 25h1M60 25h1M9 35h1M24 35h1M28 35h1M42 35h1M60 35h1M7 48h1M32 48h1M15 58h2M18 58h1M19 68h1M26 68h1M38 68h1M23 78h1M58 78h1M47 88h1M4 98h1M16 98h1M21 108h1M38 108h1M25 118h1M52 118h1M20 128h1M34 128h1M63 128h1M0 148h1M2 148h3M8 148h1M13 148h1M19 148h2M22 148h1M25 148h2M34 148h1M45 148h2M48 148h1M62 148h1M0 158h1M2 158h5M8 158h1M10 158h4M16 158h1M18 158h4M24 158h1M27 158h2M31 158h1M33 158h3M37 158h3M44 158h1M50 158h1M53 158h1M56 158h1M59 158h2M62 158h3M0 168h1M2 168h5M8 168h1M10 168h4M16 168h1M18 168h4M24 168h1M27 168h2M31 168h1M33 168h3M37 168h3M44 168h1M50 168h1M53 168h1M56 168h1M59 168h2M62 168h3M21 178h1M35 178h1M58 178h1M14 188h1M19 188h1M54 188h1M62 208h1M39 218h1M51 218h1M0 228h1M2 228h5M8 228h1M10 228h4M16 228h1M18 228h4M24 228h1M27 228h2M31 228h1M33 228h3M37 228h3M44 228h1M50 228h1M53 228h1M56 228h1M59 228h2M62 228h3M48 241h1M15 251h1M23 251h1M25 261h1M56 261h1M14 271h1M23 271h1M49 271h1M14 291h1M27 291h1M49 291h1M27 301h1M43 301h1M3 311h1M6 311h1M16 311h1M28 331h1M42 331h1M55 341h1M9 351h1M14 351h1M16 351h1M18 351h1M39 364h1M13 384h1M19 384h1M61 394h1M1 404h1M64 404h1M30 414h1M52 414h1M0 424h1M8 434h1"/><path stroke="#92f892" d="M6 5h1M16 5h1M22 5h1M27 5h2M45 5h1M55 5h1M25 15h1M55 15h1M62 15h1M0 25h1M14 25h1M29 25h1M37 25h1M41 25h1M44 25h1M0 35h1M14 35h1M29 35h1M37 35h1M41 35h1M44 35h1M6 48h1M20 48h1M47 48h1M31 68h1M37 78h1M58 88h1M15 98h1M5 108h1M23 108h1M2 118h1M4 118h1M11 118h1M6 128h1M16 138h1M63 138h1M1 148h1M5 148h1M9 148h1M17 148h2M23 148h2M30 148h1M32 148h1M35 148h1M37 148h1M42 148h1M49 148h4M63 148h2M1 158h1M7 158h1M25 158h2M29 158h1M32 158h1M43 158h1M45 158h1M51 158h2M54 158h2M58 158h1M1 168h1M7 168h1M25 168h2M29 168h1M32 168h1M43 168h1M45 168h1M51 168h2M54 168h2M58 168h1M51 178h1M22 188h1M31 188h1M38 188h1M45 188h1M56 188h1M2 198h1M8 198h1M39 198h1M55 198h1M5 208h1M16 208h1M22 208h2M1 218h1M1 228h1M7 228h1M25 228h2M29 228h1M32 228h1M43 228h1M45 228h1M51 228h2M54 228h2M58 228h1M42 241h1M11 251h1M28 251h1M52 251h1M4 271h1M38 271h1M56 271h1M59 271h1M23 291h1M35 291h1M60 301h1M4 311h1M7 311h1M27 311h1M44 311h1M4 321h1M12 331h1M43 331h1M45 331h1M52 331h1M1 341h1M4 341h1M11 341h1M51 341h1M12 351h1M25 351h1M44 351h1M63 351h1M4 364h1M13 364h1M20 364h1M52 364h1M27 374h1M38 374h1M5 384h2M9 384h1M62 384h1M15 394h1M40 394h1M48 404h1M60 404h1M6 434h1"/><path stroke="#bdfbbd" d="M15 5h1M3 15h1M6 15h1M23 15h1M33 15h1M42 15h1M58 15h1M5 25h1M17 25h1M57 25h1M5 35h1M17 35h1M57 35h1M12 48h1M30 48h1M45 48h1M54 58h1M7 68h1M16 68h1M50 68h1M56 68h1M8 78h1M27 78h1M30 78h2M45 78h1M60 98h1M19 108h1M30 108h1M47 108h1M62 108h1M37 118h1M41 118h1M64 118h1M9 128h1M40 128h1M58 128h1M0 138h1M2 138h4M8 138h1M15 138h1M17 138h1M21 138h1M27 138h1M29 138h1M34 138h6M47 138h1M50 138h1M57 138h1M60 138h2M64 138h1M14 148h1M16 148h1M27 148h1M39 148h1M41 148h1M44 148h1M47 148h1M53 148h2M60 148h1M38 178h1M8 188h1M24 188h1M50 188h1M41 198h1M6 208h1M48 208h1M56 218h1M13 251h1M27 251h1M53 251h1M64 251h1M37 261h1M43 261h1M13 271h1M19 271h1M26 271h1M28 271h1M30 271h1M18 281h1M28 281h1M30 281h1M40 281h1M47 281h1M3 291h1M64 291h1M2 301h1M14 301h1M20 311h1M37 311h1M55 311h1M59 311h2M2 331h1M5 331h1M8 331h1M16 331h1M30 331h2M8 341h2M23 341h1M4 351h1M30 351h1M48 351h1M1 364h1M59 374h1M20 394h1M39 394h1M54 394h2M18 404h1M4 414h1M6 424h1M55 424h1M58 424h1M36 434h1M55 434h1"/><path stroke="#e9fee9" d="M1 5h1M12 5h1M21 5h1M30 5h1M46 5h1M48 5h1M9 15h1M49 15h1M53 15h1M59 15h2M19 25h1M49 25h1M51 25h1M19 35h1M49 35h1M51 35h1M8 48h1M22 48h1M24 48h1M23 58h1M29 58h1M39 58h1M49 58h1M60 58h1M14 68h1M32 68h1M40 68h1M6 78h1M9 78h1M26 78h1M57 78h1M27 88h1M38 88h1M59 88h1M12 98h1M14 98h1M27 98h1M33 98h1M42 98h1M45 98h1M49 98h1M2 108h1M46 108h1M52 108h1M61 108h1M18 118h1M28 118h2M42 118h1M10 128h1M17 128h1M51 128h1M1 138h1M6 138h2M10 138h5M19 138h2M22 138h1M25 138h2M28 138h1M30 138h3M40 138h7M48 138h2M51 138h4M56 138h1M58 138h2M62 138h1M10 148h1M29 148h1M40 148h1M57 148h1M61 148h1M20 178h1M43 178h1M50 178h1M9 188h1M48 188h1M14 198h1M18 198h1M46 198h1M56 198h1M20 208h1M38 208h1M44 208h1M57 208h1M30 218h1M4 241h1M9 241h1M11 241h1M26 241h1M47 241h1M54 241h1M57 241h1M60 241h1M3 251h1M10 251h1M36 251h1M41 251h1M60 251h1M62 251h1M0 261h1M23 261h1M26 261h1M45 271h1M51 271h1M15 281h1M25 281h1M35 281h1M37 281h1M56 281h1M9 291h1M1 301h1M5 301h1M21 301h1M32 301h1M50 301h1M57 301h1M63 301h2M1 311h2M14 311h1M21 311h1M30 311h1M34 311h1M46 311h1M52 311h2M57 311h1M61 311h1M9 321h1M19 321h1M27 321h1M39 321h1M51 321h1M62 321h1M44 331h1M51 331h1M20 341h1M24 341h1M36 341h1M43 341h1M52 341h1M31 351h1M45 351h1M47 351h1M59 351h1M15 364h1M24 364h1M28 364h1M30 364h1M58 364h1M20 374h1M35 374h1M52 374h1M35 384h1M56 384h1M37 394h1M37 404h1M43 404h1M36 414h1M38 414h2M2 424h1M8 424h1M10 424h1M14 424h1M50 424h1M52 424h1M16 434h1M53 434h1M59 434h1"/><path stroke="#fdf0ea" d="M33 5h1M36 5h1M42 5h2M51 5h1M56 5h1M44 15h1M47 15h1M54 15h1M32 25h1M48 25h1M32 35h1M48 35h1M16 48h1M18 48h1M26 48h1M33 48h2M49 48h1M58 48h1M0 58h1M24 58h1M50 58h1M21 68h1M29 68h1M35 68h1M49 68h1M62 68h1M11 78h1M21 78h1M34 78h1M38 78h1M47 78h1M56 78h1M60 78h1M2 88h1M17 88h1M48 88h1M52 88h1M29 98h1M35 98h1M6 108h1M25 108h1M36 108h1M39 108h1M59 108h1M31 118h1M47 118h1M59 118h1M2 128h1M26 128h1M46 128h1M53 128h1M62 128h1M18 138h1M23 138h2M33 138h1M27 178h1M36 178h1M45 178h1M47 178h1M53 178h1M39 188h1M5 198h1M21 198h1M34 198h1M40 208h1M3 218h1M23 218h1M50 218h1M23 241h1M28 241h1M40 241h1M58 241h1M9 251h1M48 251h1M45 261h1M48 261h1M2 271h1M18 271h1M41 271h1M54 271h1M3 281h1M5 281h1M7 281h1M9 281h1M14 281h1M16 281h2M19 281h1M31 281h1M42 281h1M44 281h1M54 281h1M64 281h1M56 291h1M8 301h1M12 301h1M18 301h1M34 301h2M45 301h1M5 311h1M31 311h1M45 311h1M48 311h1M58 311h1M63 311h1M10 321h1M24 321h1M41 321h1M48 321h1M6 331h1M11 331h1M27 331h1M33 331h1M37 331h1M50 331h1M59 331h1M35 341h1M49 341h1M57 341h1M60 341h1M40 351h1M46 351h1M54 351h1M56 351h1M61 351h1M10 364h1M23 364h1M41 364h1M44 364h1M23 374h1M32 374h1M40 374h1M12 384h1M21 384h1M27 384h1M35 394h1M43 414h1M13 424h1M16 424h1M24 424h1M3 434h1M12 434h1M20 434h1M41 434h1"/><path stroke="#fad1c1" d="M3 5h1M40 5h1M50 5h1M59 5h1M24 15h1M40 15h1M43 25h1M46 25h1M61 25h1M43 35h1M46 35h1M61 35h1M10 48h1M15 48h1M64 48h1M3 58h1M11 58h1M43 58h1M51 58h1M33 68h1M47 68h1M61 68h1M19 88h1M60 88h1M58 98h1M63 98h1M33 118h1M40 118h1M43 118h1M56 118h1M63 118h1M17 178h1M34 178h1M49 178h1M60 178h1M21 188h1M30 188h1M36 188h1M60 188h1M9 198h1M19 198h1M36 198h1M50 198h1M34 218h1M38 218h1M42 218h1M54 218h1M38 241h2M22 251h1M39 251h1M58 251h1M14 261h1M40 261h1M1 271h1M1 281h1M4 281h1M11 281h1M20 281h3M24 281h1M32 281h1M36 281h1M38 281h1M43 281h1M46 281h1M48 281h1M51 281h1M53 281h1M62 281h1M4 291h1M28 291h1M45 291h1M54 291h1M60 291h1M11 301h1M10 311h1M41 311h1M64 311h1M37 321h1M60 321h1M32 331h1M14 341h1M22 341h1M38 351h1M49 351h1M64 351h1M7 364h1M27 364h1M46 374h1M49 384h1M0 394h1M7 394h1M46 394h1M17 404h1M33 404h1M50 404h1M11 414h1M41 414h1M51 414h1M9 424h1M11 424h1M20 424h1M59 424h1M25 434h1M27 434h1M64 434h1"/><path stroke="#f7b298" d="M54 5h1M22 15h1M18 25h1M18 35h1M36 58h1M46 58h1M46 68h1M9 108h1M31 108h1M50 108h1M10 118h1M27 118h1M48 118h1M46 178h1M40 188h1M61 188h2M38 198h1M24 208h1M31 208h1M51 208h1M59 208h1M63 208h1M17 218h1M25 218h1M49 218h1M12 241h1M46 261h1M16 271h1M40 271h1M2 281h1M13 281h1M29 281h1M33 281h1M41 281h1M45 281h1M49 281h1M57 281h2M61 281h1M63 281h1M13 291h1M15 291h1M30 291h1M62 301h1M34 331h1M59 341h1M29 351h1M50 351h1M41 384h1M53 384h1M63 384h1M16 394h1M20 404h1M56 404h1M12 414h1M63 414h1M15 424h1M27 424h1M39 424h1M42 434h1M57 434h1"/><path stroke="#f4936f" d="M34 15h1M3 48h1M29 48h1M36 48h1M38 48h1M25 58h1M54 68h1M7 78h1M6 88h1M30 88h2M21 98h1M61 98h1M11 108h1M40 108h1M53 108h1M16 118h1M48 128h1M59 178h1M16 188h1M25 188h1M51 188h1M47 208h1M58 208h1M9 218h1M6 251h1M17 251h1M16 261h1M33 271h1M10 281h1M1 291h1M19 291h1M33 291h1M38 291h1M44 291h1M58 301h1M23 311h1M1 321h1M14 321h1M22 321h1M36 331h1M42 341h1M32 364h1M13 374h1M47 384h1M8 394h1M33 394h1M36 394h1M14 404h1M37 414h1M26 434h1M38 434h1"/><path stroke="#f17446" d="M39 5h1M16 25h1M16 35h1M29 78h1M50 98h1M0 108h1M42 108h1M48 108h1M64 108h1M52 128h1M56 178h1M28 188h1M45 198h1M7 261h1M13 261h1M41 261h1M6 281h1M60 281h1M24 291h1M62 291h1M25 301h1M44 321h1M5 351h1M47 374h1M23 384h1M32 404h1M60 424h1"/><path stroke="#ee551d" d="M4 58h1M8 88h1M34 88h1M62 118h1M32 128h1M30 241h1M42 321h1M47 331h1M37 341h1M25 374h1M1 384h1M50 384h1M44 394h1M34 414h1M63 424h1"/><path stroke="#eb4406" d="M0 5h1M32 5h1M49 5h1M2 15h1M7 15h2M64 25h1M64 35h1M14 48h1M48 48h1M8 58h1M35 58h1M57 58h1M8 68h1M36 68h1M43 68h2M48 68h1M59 68h1M17 78h1M22 78h1M28 78h1M9 88h1M16 88h1M29 88h1M36 88h1M55 88h1M3 98h1M7 98h1M19 98h1M47 98h1M17 108h1M33 108h1M12 118h1M23 118h1M46 118h1M54 118h1M8 128h1M15 128h1M31 128h1M43 128h1M7 148h1M9 158h1M15 158h1M17 158h1M23 158h1M36 158h1M9 168h1M15 168h1M17 168h1M23 168h1M36 168h1M33 188h1M35 188h1M6 198h1M32 198h1M37 198h1M0 208h1M29 208h1M36 208h1M42 208h1M22 218h1M57 218h1M9 228h1M15 228h1M17 228h1M23 228h1M36 228h1M1 241h1M15 241h1M24 241h1M29 241h1M31 241h1M34 241h1M36 241h1M43 241h4M55 241h1M59 241h1M61 241h1M8 251h1M12 251h1M18 251h1M26 251h1M45 251h1M57 251h1M1 261h1M3 261h2M6 261h1M22 261h1M27 261h1M34 261h1M39 261h1M44 261h1M53 261h1M57 261h1M63 261h1M0 271h1M3 271h1M5 271h4M10 271h1M20 271h1M25 271h1M35 271h1M37 271h1M39 271h1M44 271h1M47 271h2M55 271h1M57 271h1M12 281h1M23 281h1M52 281h1M0 291h1M7 291h1M11 291h2M16 291h1M32 291h1M42 291h1M61 291h1M0 301h1M4 301h1M39 301h1M48 301h1M13 311h1M25 311h1M33 311h1M35 311h1M38 311h1M43 311h1M47 311h1M2 321h2M13 321h1M16 321h1M20 321h2M23 321h1M26 321h1M28 321h1M33 321h1M45 321h1M57 321h1M63 321h2M13 331h1M23 331h1M29 331h1M56 331h1M58 331h1M2 341h1M12 341h1M25 341h3M29 341h2M50 341h1M0 351h1M2 351h1M23 351h1M26 351h1M35 351h1M51 351h1M57 351h1M0 364h1M3 364h1M9 364h1M37 364h1M50 364h1M55 364h1M59 364h3M0 374h1M4 374h3M8 374h3M14 374h1M16 374h1M26 374h1M34 374h1M45 374h1M50 374h1M62 374h2M2 384h1M8 384h1M17 384h1M29 384h1M33 384h2M39 384h1M42 384h2M46 384h1M51 384h2M59 384h1M4 394h1M13 394h1M17 394h2M29 394h1M43 394h1M58 394h1M60 394h1M4 404h1M6 404h1M21 404h2M26 404h2M29 404h1M46 404h1M51 404h2M54 404h1M62 404h1M3 414h1M7 414h1M10 414h1M19 414h1M24 414h1M26 414h1M28 414h1M31 414h1M35 414h1M40 414h1M58 414h1M62 414h1M3 424h1M17 424h1M23 424h1M28 424h1M51 424h1M54 424h1M2 434h1M5 434h1M7 434h1M11 434h1M14 434h1M17 434h1M23 434h1M28 434h1M31 434h4M40 434h1M46 434h3M54 434h1M63 434h1"/><path stroke="#e94202" d="M9 5h1M47 5h1M63 5h1M8 25h1M8 35h1M19 48h1M21 48h1M18 68h1M37 68h1M51 68h1M55 68h1M10 78h1M35 78h1M44 78h1M49 78h1M52 78h1M22 88h1M33 88h1M42 88h1M56 88h1M8 98h1M17 98h1M3 108h1M7 108h2M12 108h1M16 108h1M34 108h1M49 108h1M63 108h1M8 118h1M5 128h1M11 128h1M27 128h1M30 128h1M33 128h1M35 128h1M38 128h1M42 128h1M11 148h1M14 158h1M30 158h1M41 158h1M46 158h2M14 168h1M30 168h1M41 168h1M46 168h2M8 178h1M14 178h1M30 178h1M61 178h1M1 188h1M6 188h1M42 188h1M47 188h1M59 188h1M63 188h1M29 198h1M35 198h1M63 198h1M2 208h2M49 208h1M53 208h1M29 218h1M31 218h1M37 218h1M58 218h1M14 228h1M30 228h1M41 228h1M46 228h2M6 241h1M10 241h1M13 241h1M17 241h1M20 241h1M25 241h1M33 241h1M50 241h1M56 241h1M62 241h1M24 251h1M40 251h1M43 251h2M47 251h1M50 251h1M61 251h1M9 261h2M18 261h1M36 261h1M42 261h1M51 261h1M59 261h1M9 271h1M27 271h1M42 271h1M46 271h1M60 271h1M27 281h1M34 281h1M59 281h1M2 291h1M8 291h1M10 291h1M17 291h2M20 291h1M25 291h1M29 291h1M39 291h1M43 291h1M51 291h2M59 291h1M17 301h1M19 301h1M29 301h1M36 301h1M41 301h1M46 301h2M53 301h1M55 301h1M59 301h1M15 311h1M22 311h1M24 311h1M28 311h2M54 311h1M62 311h1M7 321h2M12 321h1M15 321h1M17 321h1M25 321h1M47 321h1M52 321h1M55 321h2M58 321h1M0 331h1M15 331h1M18 331h1M22 331h1M26 331h1M35 331h1M39 331h1M62 331h1M64 331h1M3 341h1M13 341h1M18 341h1M41 341h1M58 341h1M6 351h3M10 351h2M13 351h1M24 351h1M33 351h1M36 351h2M41 351h1M43 351h1M52 351h1M55 351h1M62 351h1M17 364h2M35 364h1M40 364h1M43 364h1M51 364h1M54 364h1M11 374h1M17 374h1M29 374h3M56 374h1M58 374h1M60 374h1M0 384h1M3 384h2M24 384h2M30 384h2M55 384h1M58 384h1M60 384h1M12 394h1M24 394h1M26 394h2M31 394h2M34 394h1M41 394h2M45 394h1M47 394h1M53 394h1M64 394h1M0 404h1M9 404h1M11 404h1M38 404h1M49 404h1M53 404h1M59 404h1M63 404h1M14 414h1M25 414h1M49 414h1M53 414h1M55 414h3M61 414h1M5 424h1M12 424h1M19 424h1M22 424h1M29 424h1M31 424h3M37 424h1M44 424h1M46 424h1M64 424h1M4 434h1M10 434h1M19 434h1M24 434h1M29 434h1M37 434h1M56 434h1M58 434h1M61 434h1"/><path stroke="#df3c03" d="M24 5h1M35 5h1M53 5h1M48 15h1M15 25h1M47 25h1M15 35h1M47 35h1M9 48h1M40 48h1M46 48h1M59 48h1M5 58h1M9 58h1M33 58h1M37 58h1M59 58h1M64 58h1M10 68h1M42 68h1M2 78h1M5 78h1M19 78h1M63 78h1M32 88h1M39 88h2M45 88h2M53 88h1M61 88h1M5 98h2M9 98h2M29 108h1M35 108h1M60 108h1M1 118h1M13 118h1M35 118h1M51 118h1M7 128h1M14 128h1M64 128h1M33 148h1M40 158h1M49 158h1M57 158h1M61 158h1M40 168h1M49 168h1M57 168h1M61 168h1M5 178h1M10 178h1M33 178h1M10 188h1M34 188h1M55 188h1M58 188h1M22 198h1M28 198h1M57 198h1M15 218h2M20 218h1M32 218h1M44 218h2M47 218h1M59 218h1M40 228h1M49 228h1M57 228h1M61 228h1M7 241h1M14 241h1M18 241h1M21 241h1M27 241h1M41 241h1M63 241h1M0 251h2M7 251h1M14 251h1M19 251h1M21 251h1M37 251h1M46 251h1M54 251h2M2 261h1M11 261h1M15 261h1M19 261h1M21 261h1M24 261h1M28 261h2M32 261h2M38 261h1M47 261h1M50 261h1M52 261h1M54 261h2M58 261h1M61 261h2M11 271h2M15 271h1M21 271h2M29 271h1M32 271h1M36 271h1M50 271h1M52 271h2M58 271h1M62 271h3M0 281h1M26 281h1M50 281h1M5 291h2M34 291h1M37 291h1M41 291h1M53 291h1M55 291h1M6 301h1M13 301h1M20 301h1M26 301h1M38 301h1M42 301h1M9 311h1M39 311h1M50 311h2M56 311h1M6 321h1M11 321h1M29 321h1M32 321h1M34 321h1M38 321h1M43 321h1M46 321h1M50 321h1M53 321h2M59 321h1M61 321h1M40 331h1M49 331h1M54 331h1M60 331h2M63 331h1M5 341h1M10 341h1M19 341h1M31 341h1M34 341h1M39 341h1M47 341h1M53 341h2M3 351h1M15 351h1M17 351h1M21 351h1M42 351h1M2 364h1M11 364h1M22 364h1M25 364h2M42 364h1M56 364h1M62 364h2M3 374h1M15 374h1M19 374h1M21 374h1M24 374h1M28 374h1M33 374h1M39 374h1M41 374h1M43 374h2M48 374h1M51 374h1M55 374h1M64 374h1M7 384h1M10 384h2M16 384h1M18 384h1M22 384h1M26 384h1M37 384h1M54 384h1M57 384h1M61 384h1M3 394h1M5 394h1M25 394h1M38 394h1M49 394h3M62 394h1M2 404h2M5 404h1M7 404h1M10 404h1M12 404h2M23 404h1M28 404h1M35 404h2M39 404h3M45 404h1M57 404h2M0 414h1M2 414h1M6 414h1M8 414h1M13 414h1M20 414h1M32 414h1M45 414h1M47 414h2M54 414h1M64 414h1M26 424h1M30 424h1M35 424h1M42 424h2M45 424h1M47 424h2M56 424h2M0 434h1M9 434h1M15 434h1M18 434h1M39 434h1M43 434h1M45 434h1M49 434h2M52 434h1M60 434h1"/><path stroke="#cd3409" d="M31 5h1M45 15h2M30 25h1M30 35h1M4 48h1M60 48h1M42 58h1M20 78h1M36 78h1M42 78h1M3 88h1M15 88h1M23 88h1M37 88h1M49 88h1M55 98h1M43 108h1M15 118h1M34 118h1M49 128h1M60 128h1M9 138h1M12 148h1M1 178h1M37 178h1M62 178h1M11 188h1M30 198h1M42 198h1M58 198h1M32 208h1M28 218h1M36 218h1M0 241h1M16 241h1M22 241h1M49 241h1M29 251h1M31 251h1M35 251h1M20 261h1M31 261h1M49 261h1M60 261h1M64 261h1M24 271h1M43 271h1M39 281h1M55 281h1M21 291h2M26 291h1M30 301h1M33 301h1M61 301h1M0 311h1M17 311h2M32 311h1M18 321h1M31 321h1M35 321h1M17 331h1M19 331h1M48 331h1M57 331h1M15 341h1M28 341h1M38 341h1M46 341h1M56 341h1M63 341h1M60 351h1M5 364h1M16 364h1M21 364h1M29 364h1M33 364h1M38 364h1M46 364h1M53 364h1M1 374h1M12 374h1M18 374h1M36 374h1M54 374h1M57 374h1M61 374h1M15 384h1M56 394h1M16 404h1M31 404h1M34 404h1M44 404h1M33 414h1M18 424h1M25 424h1M38 424h1M40 424h1M62 424h1M13 434h1M51 434h1M62 434h1"/></g>
<rect x="572.6" y="890.1" width="20.2" height="63.1" fill="#ffff00"/>
<rect x="592.8" y="890.1" width="20.2" height="63.1" fill="#000000"/>
<rect x="613" y="890.1" width="20.2" height="63.1" fill="#0000ff"/>
<rect x="633.2" y="890.1" width="20.2" height="63.1" fill="#0000ff"/>
<rect x="572.6" y="958" width="20.2" height="299.8" fill="#ffff00"/>
<rect x="592.8" y="958" width="20.2" height="299.8" fill="#ffffff"/>
<rect x="613" y="958" width="20.2" height="299.8" fill="#0000ff"/>
<rect x="633.2" y="958" width="20.2" height="299.8" fill="#ff0000"/>
<rect x="572.6" y="1262.5" width="20.2" height="189.4" fill="#00ee00"/>
<rect x="592.8" y="1262.5" width="20.2" height="189.4" fill="#000000"/>
<rect x="613" y="1262.5" width="20.2" height="189.4" fill="#ff0000"/>
<rect x="633.2" y="1262.5" width="20.2" height="189.4" fill="#ff0000"/>
<rect x="572.6" y="1456.6" width="20.2" height="126.2" fill="#00ee00"/>
<rect x="592.8" y="1456.6" width="20.2" height="126.2" fill="#ffffff"/>
<rect x="613" y="1456.6" width="20.2" height="126.2" fill="#ff0000"/>
<rect x="633.2" y="1456.6" width="20.2" height="126.2" fill="#0000ff"/>
<rect x="110" y="860.4" width="110.3" height="24.5" fill="#ff0000"/>
<rect x="226.1" y="860.4" width="339.7" height="24.5" fill="#80b0ff"/>
<rect x="662" y="860.4" width="110" height="24.5" fill="#ff0000"/>
<rect x="777.6" y="860.4" width="340.2" height="24.5" fill="#80b0ff"/>
</g>
<path d="M110 860.4h110.3v24.5h-110.3zM110 890.1h110.3v63.1h-110.3zM110 958h110.3v299.8h-110.3zM110 1262.5h110.3v189.4h-110.3zM110 1456.6h110.3v126.2h-110.3zM226.1 860.4h339.7v24.5h-339.7zM226.1 890.1h339.7v63.1h-339.7zM226.1 958h339.7v299.8h-339.7zM226.1 1262.5h339.7v189.4h-339.7zM226.1 1456.6h339.7v126.2h-339.7zM662 860.4h110v24.5h-110zM662 890.1h110v63.1h-110zM662 958h110v299.8h-110zM662 1262.5h110v189.4h-110zM662 1456.6h110v126.2h-110zM777.6 860.4h340.2v24.5h-340.2zM777.6 890.1h340.2v63.1h-340.2zM777.6 958h340.2v299.8h-340.2zM777.6 1262.5h340.2v189.4h-340.2zM777.6 1456.6h340.2v126.2h-340.2zM572.6 890.1h80.8v63.1h-80.8zM633.2 890.1v63.1M572.6 958h80.8v299.8h-80.8zM592.8 958v299.8M613 958v299.8M633.2 958v299.8M572.6 1262.5h80.8v189.4h-80.8zM633.2 1262.5v189.4M572.6 1456.6h80.8v126.2h-80.8zM592.8 1456.6v126.2M613 1456.6v126.2M633.2 1456.6v126.2" fill="none" stroke="#000" stroke-width="1.5"/>
<text x="164.3" y="852.3" font-size="24.6" text-anchor="middle">High Risk</text>
<text x="395" y="852.3" font-size="24.6" text-anchor="middle">Low Risk</text>
<text x="716.5" y="852.3" font-size="24.6" text-anchor="middle">High Risk</text>
<text x="947" y="852.3" font-size="24.6" text-anchor="middle">Low Risk</text>
<text x="104.6" y="879.8" font-size="19.9" text-anchor="end">Grouping</text>
<text x="98.5" y="905.3" font-size="18.6" font-style="italic" text-anchor="end">*ACPP</text>
<text x="98.5" y="921.1" font-size="18.6" font-style="italic" text-anchor="end">WNT5B</text>
<text x="97.7" y="944" font-size="18.6" font-style="italic" text-anchor="end">NUAK1</text>
<path d="M106.3 928.8H101.8V946H106.3" fill="none" stroke="#000" stroke-width="1.1"/>
<text x="98.5" y="973.1" font-size="18.6" font-style="italic" text-anchor="end">ADAMTS2</text>
<text x="98.5" y="988.9" font-size="18.6" font-style="italic" text-anchor="end">SNX25</text>
<text x="98.5" y="1004.7" font-size="18.6" font-style="italic" text-anchor="end">EEFSEC</text>
<text x="98.5" y="1020.5" font-size="18.6" font-style="italic" text-anchor="end">TMEM2</text>
<text x="98.5" y="1036.3" font-size="18.6" font-style="italic" text-anchor="end">SLC39A10</text>
<text x="98.5" y="1052" font-size="18.6" font-style="italic" text-anchor="end">MAP4K4</text>
<text x="98.5" y="1067.8" font-size="18.6" font-style="italic" text-anchor="end">LURAP1L</text>
<text x="98.5" y="1083.6" font-size="18.6" font-style="italic" text-anchor="end">ENOX1</text>
<text x="98.5" y="1099.4" font-size="18.6" font-style="italic" text-anchor="end">CLYBL</text>
<text x="98.5" y="1115.2" font-size="18.6" font-style="italic" text-anchor="end">KIF1A</text>
<text x="98.5" y="1130.9" font-size="18.6" font-style="italic" text-anchor="end">CUBN</text>
<text x="97.7" y="1153.9" font-size="18.6" font-style="italic" text-anchor="end" textLength="96.3" lengthAdjust="spacingAndGlyphs">MARVELD3</text>
<path d="M106.3 1138.7H101.8V1155.9H106.3" fill="none" stroke="#000" stroke-width="1.1"/>
<text x="98.5" y="1178.3" font-size="18.6" font-style="italic" text-anchor="end">RAB20</text>
<text x="98.5" y="1194.1" font-size="18.6" font-style="italic" text-anchor="end">GBAS</text>
<text x="98.5" y="1209.8" font-size="18.6" font-style="italic" text-anchor="end">TRIM37</text>
<text x="98.5" y="1225.6" font-size="18.6" font-style="italic" text-anchor="end">ADCY5</text>
<text x="98.5" y="1241.4" font-size="18.6" font-style="italic" text-anchor="end">RANBP3L</text>
<text x="98.5" y="1257.2" font-size="18.6" font-style="italic" text-anchor="end" textLength="97" lengthAdjust="spacingAndGlyphs">MARVELD3</text>
<text x="98.5" y="1277.7" font-size="18.6" font-style="italic" text-anchor="end">PLEKHA6</text>
<text x="98.5" y="1293.5" font-size="18.6" font-style="italic" text-anchor="end">BCAR3</text>
<text x="98.5" y="1309.3" font-size="18.6" font-style="italic" text-anchor="end">MLLT4</text>
<text x="98.5" y="1325" font-size="18.6" font-style="italic" text-anchor="end">ECE1</text>
<text x="98.5" y="1340.8" font-size="18.6" font-style="italic" text-anchor="end">TAL1</text>
<text x="98.5" y="1356.6" font-size="18.6" font-style="italic" text-anchor="end">PHACTR1</text>
<text x="98.5" y="1372.4" font-size="18.6" font-style="italic" text-anchor="end">NEURL1B</text>
<text x="98.5" y="1388.2" font-size="18.6" font-style="italic" text-anchor="end">CIT</text>
<text x="98.5" y="1403.9" font-size="18.6" font-style="italic" text-anchor="end">TCF20</text>
<text x="98.5" y="1419.7" font-size="18.6" font-style="italic" text-anchor="end">PLXNA4</text>
<text x="98.5" y="1435.5" font-size="18.6" font-style="italic" text-anchor="end">TBC1D1</text>
<text x="98.5" y="1451.3" font-size="18.6" font-style="italic" text-anchor="end">C9orf3</text>
<text x="98.5" y="1471.8" font-size="18.6" font-style="italic" text-anchor="end">ZBTB16</text>
<text x="98.5" y="1487.6" font-size="18.6" font-style="italic" text-anchor="end">HRH1</text>
<text x="98.5" y="1503.4" font-size="18.6" font-style="italic" text-anchor="end">ERGIC1</text>
<text x="98.5" y="1519.1" font-size="18.6" font-style="italic" text-anchor="end">PRR5L</text>
<text x="98.5" y="1534.9" font-size="18.6" font-style="italic" text-anchor="end">MN1</text>
<text x="98.5" y="1550.7" font-size="18.6" font-style="italic" text-anchor="end">VPS13D</text>
<text x="98.5" y="1566.5" font-size="18.6" font-style="italic" text-anchor="end">ARHGEF3</text>
<text x="98.5" y="1582.3" font-size="18.6" font-style="italic" text-anchor="end">DIAPH1</text>
<text x="573.2" y="1598" transform="rotate(-33 573.2 1598)" text-anchor="end" font-size="17.5" font-style="italic">PGP Behavior</text>
<text x="596.2" y="1598" transform="rotate(-33 596.2 1598)" text-anchor="end" font-size="17.5" font-style="italic">Source Methyl</text>
<text x="620.6" y="1598" transform="rotate(-33 620.6 1598)" text-anchor="end" font-size="17.5" font-style="italic">Tiss. Methyl</text>
<text x="647.9" y="1598" transform="rotate(-33 647.9 1598)" text-anchor="end" font-size="17.5" font-style="italic">Serum Methyl</text>
<text x="5.9" y="853.4" font-size="61" font-weight="bold">c.</text>
<rect x="1125" y="858.4" width="554.2" height="335" fill="#fff" stroke="#222" stroke-width="1.5"/>
<defs><linearGradient id="gm" x1="0" x2="1" y1="0" y2="0"><stop offset="0" stop-color="#000a8f"/><stop offset="0.12" stop-color="#0030d0"/><stop offset="0.3" stop-color="#00a8f8"/><stop offset="0.45" stop-color="#60e090"/><stop offset="0.6" stop-color="#c8fa30"/><stop offset="0.8" stop-color="#f0a010"/><stop offset="1" stop-color="#ff3c00"/></linearGradient>
<linearGradient id="ge" x1="0" x2="1" y1="0" y2="0"><stop offset="0" stop-color="#00e800"/><stop offset="0.15" stop-color="#30ee30"/><stop offset="0.5" stop-color="#ffffff"/><stop offset="0.85" stop-color="#f47850"/><stop offset="1" stop-color="#f04000"/></linearGradient></defs>
<rect x="1373.5" y="879.6" width="252.3" height="16.9" fill="url(#gm)" stroke="#000" stroke-width="1"/>
<rect x="1373.5" y="914.9" width="252.3" height="16.5" fill="url(#ge)" stroke="#000" stroke-width="1"/>
<text x="1365" y="893.5" font-size="20.5" text-anchor="end">β-Methylation Value:</text>
<text x="1365" y="928.8" font-size="20.5" text-anchor="end">Gene Expression:</text>
<text x="1373" y="876.8" font-size="14" font-style="italic">Min</text>
<text x="1625.8" y="876.8" font-size="14" font-style="italic" text-anchor="end">Max</text>
<text x="1373" y="912.4" font-size="14" font-style="italic">Min</text>
<text x="1625.8" y="912.4" font-size="14" font-style="italic" text-anchor="end">Max</text>
<text x="1139.2" y="964.8" font-size="18.9" font-weight="bold">Grouping</text>
<rect x="1138.4" y="975.2" width="21.8" height="19.6" fill="#ff0000" stroke="#000" stroke-width="1.2"/>
<rect x="1138.4" y="994.8" width="21.8" height="20" fill="#80b0ff" stroke="#000" stroke-width="1.2"/>
<text x="1166" y="991.7" font-size="18.85">High Risk (Hypermitotic)</text>
<text x="1166" y="1010.9" font-size="18.85">Low Risk (Merlin-intact)</text>
<text x="1139.2" y="1040.9" font-size="18.9" font-weight="bold">PGP Behavior</text>
<rect x="1138.4" y="1045.5" width="21.8" height="20.3" fill="#ffff00" stroke="#000" stroke-width="1.2"/>
<rect x="1138.4" y="1065.8" width="21.8" height="20.8" fill="#00ee00" stroke="#000" stroke-width="1.2"/>
<text x="1166" y="1062" font-size="18.85">Upregulated &amp; Hypomethylated</text>
<text x="1166" y="1082.7" font-size="18.85">Downregulated &amp; Hypermethylated</text>
<text x="1139.2" y="1121.2" font-size="18.9" font-weight="bold">Source Concordance</text>
<rect x="1138.4" y="1131.9" width="21.8" height="21.1" fill="#000" stroke="#000" stroke-width="1.2"/>
<rect x="1138.4" y="1153" width="21.8" height="20.4" fill="#fff" stroke="#000" stroke-width="1.2"/>
<text x="1166" y="1149.2" font-size="18.85">Concordant</text>
<text x="1166" y="1169.5" font-size="18.85">Discordant</text>
<text x="1493.3" y="1040.9" font-size="18.9" font-weight="bold">Tissue Methylation</text>
<rect x="1492.6" y="1051.2" width="21.8" height="21.2" fill="#ff0000" stroke="#000" stroke-width="1.2"/>
<rect x="1492.6" y="1072.4" width="21.8" height="21.1" fill="#0000ff" stroke="#000" stroke-width="1.2"/>
<text x="1520.2" y="1068.5" font-size="18.85">Hypermethylated</text>
<text x="1520.2" y="1088.9" font-size="18.85">Hypomethylated</text>
<text x="1493.3" y="1121.2" font-size="18.9" font-weight="bold">Serum Methylation</text>
<rect x="1492.6" y="1131.9" width="21.8" height="21.1" fill="#ff0000" stroke="#000" stroke-width="1.2"/>
<rect x="1492.6" y="1153" width="21.8" height="20.4" fill="#0000ff" stroke="#000" stroke-width="1.2"/>
<text x="1520.2" y="1149.2" font-size="18.85">Hypermethylated</text>
<text x="1520.2" y="1169.5" font-size="18.85">Hypomethylated</text>
<rect x="1167.6" y="1259.6" width="539.1" height="316.8" fill="#fff"/>
<path d="M1173 1259.6V1576.4M1345.5 1259.6V1576.4M1518.3 1259.6V1576.4M1690.4 1259.6V1576.4M1167.6 1268.4H1706.7M1167.6 1346H1706.7M1167.6 1423.2H1706.7M1167.6 1500.7H1706.7" stroke="#e9e9e9" stroke-width="1.2" fill="none"/>
<polygon points="1624.2,1441.8 1645.2,1441.8 1634.7,1424.8" fill="#f40505" stroke="#000" stroke-width="1.6" stroke-linejoin="miter"/>
<polygon points="1516.1,1376.9 1537.1,1376.9 1526.6,1359.9" fill="#f40505" stroke="#000" stroke-width="1.6" stroke-linejoin="miter"/>
<polygon points="1556.3,1381.6 1577.3,1381.6 1566.8,1364.6" fill="#f40505" stroke="#000" stroke-width="1.6" stroke-linejoin="miter"/>
<polygon points="1591.7,1375.6 1612.7,1375.6 1602.2,1358.6" fill="#f40505" stroke="#000" stroke-width="1.6" stroke-linejoin="miter"/>
<polygon points="1623.3,1369.8 1644.3,1369.8 1633.8,1352.8" fill="#f40505" stroke="#000" stroke-width="1.6" stroke-linejoin="miter"/>
<polygon points="1641.9,1382.9 1662.9,1382.9 1652.4,1365.9" fill="#f40505" stroke="#000" stroke-width="1.6" stroke-linejoin="miter"/>
<polygon points="1671.6,1373.7 1692.6,1373.7 1682.1,1356.7" fill="#f40505" stroke="#000" stroke-width="1.6" stroke-linejoin="miter"/>
<polygon points="1592.6,1392.9 1613.6,1392.9 1603.1,1375.9" fill="#f40505" stroke="#000" stroke-width="1.6" stroke-linejoin="miter"/>
<polygon points="1625.1,1396.7 1646.1,1396.7 1635.6,1379.7" fill="#f40505" stroke="#000" stroke-width="1.6" stroke-linejoin="miter"/>
<polygon points="1604.3,1413.2 1625.3,1413.2 1614.8,1396.2" fill="#f40505" stroke="#000" stroke-width="1.6" stroke-linejoin="miter"/>
<polygon points="1582.7,1421.7 1603.7,1421.7 1593.2,1404.7" fill="#f40505" stroke="#000" stroke-width="1.6" stroke-linejoin="miter"/>
<polygon points="1585.7,1430.5 1606.7,1430.5 1596.2,1413.5" fill="#f40505" stroke="#000" stroke-width="1.6" stroke-linejoin="miter"/>
<polygon points="1643.4,1420.5 1664.4,1420.5 1653.9,1403.5" fill="#f40505" stroke="#000" stroke-width="1.6" stroke-linejoin="miter"/>
<polygon points="1659.7,1428.6 1680.7,1428.6 1670.2,1411.6" fill="#f40505" stroke="#000" stroke-width="1.6" stroke-linejoin="miter"/>
<polygon points="1663.7,1427.7 1684.7,1427.7 1674.2,1410.7" fill="#f40505" stroke="#000" stroke-width="1.6" stroke-linejoin="miter"/>
<polygon points="1616.1,1434.3 1637.1,1434.3 1626.6,1417.3" fill="#f40505" stroke="#000" stroke-width="1.6" stroke-linejoin="miter"/>
<polygon points="1619.9,1434.3 1640.9,1434.3 1630.4,1417.3" fill="#f40505" stroke="#000" stroke-width="1.6" stroke-linejoin="miter"/>
<polygon points="1624.6,1433.3 1645.6,1433.3 1635.1,1416.3" fill="#f40505" stroke="#000" stroke-width="1.6" stroke-linejoin="miter"/>
<polygon points="1634,1433.3 1655,1433.3 1644.5,1416.3" fill="#f40505" stroke="#000" stroke-width="1.6" stroke-linejoin="miter"/>
<polygon points="1506.7,1426.7 1527.7,1426.7 1517.2,1409.7" fill="#f40505" stroke="#000" stroke-width="1.6" stroke-linejoin="miter"/>
<polygon points="1544.7,1435.2 1565.7,1435.2 1555.2,1418.2" fill="#f40505" stroke="#000" stroke-width="1.6" stroke-linejoin="miter"/>
<polygon points="1548.8,1439 1569.8,1439 1559.3,1422" fill="#f40505" stroke="#000" stroke-width="1.6" stroke-linejoin="miter"/>
<polygon points="1560.7,1446.5 1581.7,1446.5 1571.2,1429.5" fill="#f40505" stroke="#000" stroke-width="1.6" stroke-linejoin="miter"/>
<polygon points="1526.4,1450.2 1547.4,1450.2 1536.9,1433.2" fill="#f40505" stroke="#000" stroke-width="1.6" stroke-linejoin="miter"/>
<polygon points="1482.3,1470.9 1503.3,1470.9 1492.8,1453.9" fill="#f40505" stroke="#000" stroke-width="1.6" stroke-linejoin="miter"/>
<polygon points="1533,1486.9 1554,1486.9 1543.5,1469.9" fill="#f40505" stroke="#000" stroke-width="1.6" stroke-linejoin="miter"/>
<polygon points="1411.8,1280.7 1432.8,1280.7 1422.3,1263.7" fill="#f40505" stroke="#000" stroke-width="1.6" stroke-linejoin="miter"/>
<polygon points="1357.2,1325.6 1378.2,1325.6 1367.7,1308.6" fill="#f40505" stroke="#000" stroke-width="1.6" stroke-linejoin="miter"/>
<polygon points="1400.3,1378.6 1421.3,1378.6 1410.8,1361.6" fill="#f40505" stroke="#000" stroke-width="1.6" stroke-linejoin="miter"/>
<polygon points="1514.6,1317.1 1535.6,1317.1 1525.1,1300.1" fill="#1e90ff" stroke="#000" stroke-width="1.6" stroke-linejoin="miter"/>
<polygon points="1503.7,1384.8 1524.7,1384.8 1514.2,1367.8" fill="#1e90ff" stroke="#000" stroke-width="1.6" stroke-linejoin="miter"/>
<polygon points="1534.3,1391.6 1555.3,1391.6 1544.8,1374.6" fill="#1e90ff" stroke="#000" stroke-width="1.6" stroke-linejoin="miter"/>
<polygon points="1644.3,1399.5 1665.3,1399.5 1654.8,1382.5" fill="#1e90ff" stroke="#000" stroke-width="1.6" stroke-linejoin="miter"/>
<polygon points="1510.8,1418.7 1531.8,1418.7 1521.3,1401.7" fill="#1e90ff" stroke="#000" stroke-width="1.6" stroke-linejoin="miter"/>
<polygon points="1490.7,1424.3 1511.7,1424.3 1501.2,1407.3" fill="#1e90ff" stroke="#000" stroke-width="1.6" stroke-linejoin="miter"/>
<polygon points="1452,1441.8 1473,1441.8 1462.5,1424.8" fill="#1e90ff" stroke="#000" stroke-width="1.6" stroke-linejoin="miter"/>
<polygon points="1432.3,1459.3 1453.3,1459.3 1442.8,1442.3" fill="#1e90ff" stroke="#000" stroke-width="1.6" stroke-linejoin="miter"/>
<polygon points="1555,1433.3 1576,1433.3 1565.5,1416.3" fill="#1e90ff" stroke="#000" stroke-width="1.6" stroke-linejoin="miter"/>
<polygon points="1605.8,1433.7 1626.8,1433.7 1616.3,1416.7" fill="#1e90ff" stroke="#000" stroke-width="1.6" stroke-linejoin="miter"/>
<polygon points="1539,1458.1 1560,1458.1 1549.5,1441.1" fill="#1e90ff" stroke="#000" stroke-width="1.6" stroke-linejoin="miter"/>
<polygon points="1518.7,1455.9 1539.7,1455.9 1529.2,1438.9" fill="#1e90ff" stroke="#000" stroke-width="1.6" stroke-linejoin="miter"/>
<polygon points="1549.9,1454 1570.9,1454 1560.4,1437" fill="#1e90ff" stroke="#000" stroke-width="1.6" stroke-linejoin="miter"/>
<polygon points="1529.1,1468.1 1550.1,1468.1 1539.6,1451.1" fill="#1e90ff" stroke="#000" stroke-width="1.6" stroke-linejoin="miter"/>
<polygon points="1562.5,1470 1583.5,1470 1573,1453" fill="#1e90ff" stroke="#000" stroke-width="1.6" stroke-linejoin="miter"/>
<polygon points="1585.1,1458.7 1606.1,1458.7 1595.6,1441.7" fill="#1e90ff" stroke="#000" stroke-width="1.6" stroke-linejoin="miter"/>
<polygon points="1508.6,1490.1 1529.6,1490.1 1519.1,1473.1" fill="#1e90ff" stroke="#000" stroke-width="1.6" stroke-linejoin="miter"/>
<polygon points="1577,1496.3 1598,1496.3 1587.5,1479.3" fill="#1e90ff" stroke="#000" stroke-width="1.6" stroke-linejoin="miter"/>
<polygon points="1579.5,1500 1600.5,1500 1590,1483" fill="#1e90ff" stroke="#000" stroke-width="1.6" stroke-linejoin="miter"/>
<polygon points="1186.3,1425.5 1207.3,1425.5 1196.8,1408.5" fill="#1e90ff" stroke="#000" stroke-width="1.6" stroke-linejoin="miter"/>
<polygon points="1181.7,1470.8 1202.7,1470.8 1192.2,1453.8" fill="#1e90ff" stroke="#000" stroke-width="1.6" stroke-linejoin="miter"/>
<polygon points="1212.4,1470.8 1233.4,1470.8 1222.9,1453.8" fill="#1e90ff" stroke="#000" stroke-width="1.6" stroke-linejoin="miter"/>
<polygon points="1259.3,1389.8 1280.3,1389.8 1269.8,1372.8" fill="#1e90ff" stroke="#000" stroke-width="1.6" stroke-linejoin="miter"/>
<polygon points="1278.5,1383.3 1299.5,1383.3 1289,1366.3" fill="#1e90ff" stroke="#000" stroke-width="1.6" stroke-linejoin="miter"/>
<polygon points="1288.9,1410.1 1309.9,1410.1 1299.4,1393.1" fill="#1e90ff" stroke="#000" stroke-width="1.6" stroke-linejoin="miter"/>
<polygon points="1286.2,1447.4 1307.2,1447.4 1296.7,1430.4" fill="#1e90ff" stroke="#000" stroke-width="1.6" stroke-linejoin="miter"/>
<polygon points="1286.9,1440.9 1307.9,1440.9 1297.4,1423.9" fill="#1e90ff" stroke="#000" stroke-width="1.6" stroke-linejoin="miter"/>
<polygon points="1345.7,1296.1 1366.7,1296.1 1356.2,1279.1" fill="#1e90ff" stroke="#000" stroke-width="1.6" stroke-linejoin="miter"/>
<polygon points="1350.7,1535 1371.7,1535 1361.2,1518" fill="#1e90ff" stroke="#000" stroke-width="1.6" stroke-linejoin="miter"/>
<polygon points="1389.1,1483.1 1410.1,1483.1 1399.6,1466.1" fill="#1e90ff" stroke="#000" stroke-width="1.6" stroke-linejoin="miter"/>
<polygon points="1419.8,1551.1 1440.8,1551.1 1430.3,1534.1" fill="#1e90ff" stroke="#000" stroke-width="1.6" stroke-linejoin="miter"/>
<polygon points="1508.2,1569.5 1529.2,1569.5 1518.7,1552.5" fill="#1e90ff" stroke="#000" stroke-width="1.6" stroke-linejoin="miter"/>
<polygon points="1611.6,1467.7 1626.6,1467.7 1619.1,1455.2" fill="#f40505" stroke="#000" stroke-width="1.4" stroke-linejoin="miter"/>
<rect x="1167.6" y="1259.6" width="539.1" height="316.8" fill="none" stroke="#000" stroke-width="1.5"/>
<path d="M1173 1576.4v4M1345.5 1576.4v4M1518.3 1576.4v4M1690.4 1576.4v4M1167.6 1268.4h-4M1167.6 1346h-4M1167.6 1423.2h-4M1167.6 1500.7h-4" stroke="#000" stroke-width="1.2" fill="none"/>
<text x="1173" y="1596.5" font-size="17.8" text-anchor="middle">−0.8</text>
<text x="1345.5" y="1596.5" font-size="17.8" text-anchor="middle">−0.4</text>
<text x="1518.3" y="1596.5" font-size="17.8" text-anchor="middle">0.0</text>
<text x="1690.4" y="1596.5" font-size="17.8" text-anchor="middle">0.4</text>
<text x="1161.5" y="1274.7" font-size="17.8" text-anchor="end">0.4</text>
<text x="1161.5" y="1352.3" font-size="17.8" text-anchor="end">0.2</text>
<text x="1161.5" y="1507" font-size="17.8" text-anchor="end">−0.2</text>
<text x="1437.6" y="1610.5" font-size="28.5" text-anchor="middle">PC1</text>
<text x="1150.5" y="1419" font-size="28.5" text-anchor="middle" transform="rotate(-90 1150.5 1419)">PC2</text>
<text x="1206.4" y="1252" font-size="23.8" font-style="italic">Concordant PGP Translation: Serum (n=63)</text>
<text x="1132" y="1252" font-size="62" font-weight="bold">d.</text>
<rect x="1569.6" y="1268.3" width="126.8" height="73.3" fill="#ebebeb" stroke="#000" stroke-width="1.4"/>
<text x="1574" y="1286.6" font-size="21.2">Legend:</text><line x1="1573.5" y1="1290.8" x2="1655.5" y2="1290.8" stroke="#000" stroke-width="1.3"/>
<circle cx="1585.3" cy="1307.6" r="5.2" fill="#f40505" stroke="#000" stroke-width="1.3"/>
<circle cx="1585.3" cy="1327.6" r="5.2" fill="#1e90ff" stroke="#000" stroke-width="1.3"/>
<text x="1600" y="1313.5" font-size="20.8">High Risk</text><text x="1600" y="1334" font-size="20.8">Low Risk</text>
<rect x="528" y="1681.1" width="722.9" height="770.6" fill="#fff"/>
<polygon points="827.2,1879.2 841.2,1879.2 834.2,1866.8" fill="#c8c8c8" stroke="none" stroke-width="0" stroke-linejoin="miter"/>
<polygon points="799.5,1923 813.5,1923 806.5,1910.5" fill="#c8c8c8" stroke="none" stroke-width="0" stroke-linejoin="miter"/>
<polygon points="923.8,1740.2 937.8,1740.2 930.8,1727.7" fill="#c8c8c8" stroke="none" stroke-width="0" stroke-linejoin="miter"/>
<polygon points="913.9,1765.5 927.9,1765.5 920.9,1753" fill="#c8c8c8" stroke="none" stroke-width="0" stroke-linejoin="miter"/>
<polygon points="919,1813.5 933,1813.5 926,1801" fill="#c8c8c8" stroke="none" stroke-width="0" stroke-linejoin="miter"/>
<polygon points="916.7,1835.5 930.7,1835.5 923.7,1823" fill="#c8c8c8" stroke="none" stroke-width="0" stroke-linejoin="miter"/>
<polygon points="888.5,1898.8 902.5,1898.8 895.5,1886.3" fill="#c8c8c8" stroke="none" stroke-width="0" stroke-linejoin="miter"/>
<polygon points="902.9,1931.8 916.9,1931.8 909.9,1919.3" fill="#c8c8c8" stroke="none" stroke-width="0" stroke-linejoin="miter"/>
<polygon points="888,2028.5 902,2028.5 895,2016" fill="#c8c8c8" stroke="none" stroke-width="0" stroke-linejoin="miter"/>
<polygon points="714.4,2054.8 728.4,2054.8 721.4,2042.2" fill="#c8c8c8" stroke="none" stroke-width="0" stroke-linejoin="miter"/>
<polygon points="799.5,2103.4 813.5,2103.4 806.5,2090.9" fill="#c8c8c8" stroke="none" stroke-width="0" stroke-linejoin="miter"/>
<polygon points="747.4,2147.2 761.4,2147.2 754.4,2134.7" fill="#c8c8c8" stroke="none" stroke-width="0" stroke-linejoin="miter"/>
<circle cx="882.7" cy="1844.8" r="5.2" fill="#c8c8c8" stroke="none" stroke-width="0"/>
<circle cx="872.8" cy="1861.1" r="5.2" fill="#c8c8c8" stroke="none" stroke-width="0"/>
<circle cx="872.8" cy="1927.1" r="5.2" fill="#c8c8c8" stroke="none" stroke-width="0"/>
<circle cx="930.2" cy="1815.9" r="5.2" fill="#c8c8c8" stroke="none" stroke-width="0"/>
<circle cx="885.1" cy="1834.8" r="5.2" fill="#c8c8c8" stroke="none" stroke-width="0"/>
<circle cx="900.6" cy="1836.2" r="5.2" fill="#c8c8c8" stroke="none" stroke-width="0"/>
<circle cx="898.4" cy="1898.2" r="5.2" fill="#c8c8c8" stroke="none" stroke-width="0"/>
<circle cx="873" cy="1926.4" r="5.2" fill="#c8c8c8" stroke="none" stroke-width="0"/>
<circle cx="902.6" cy="1956.6" r="5.2" fill="#c8c8c8" stroke="none" stroke-width="0"/>
<circle cx="886.5" cy="2010.5" r="5.2" fill="#c8c8c8" stroke="none" stroke-width="0"/>
<circle cx="862.6" cy="2032.7" r="5.2" fill="#c8c8c8" stroke="none" stroke-width="0"/>
<circle cx="849.4" cy="2111.3" r="5.2" fill="#c8c8c8" stroke="none" stroke-width="0"/>
<line x1="528" y1="1834.9" x2="1250.9" y2="1834.9" stroke="#000" stroke-width="6" stroke-dasharray="1.8 3.84" stroke-dashoffset="3.4"/>
<line x1="918.1" y1="1681.1" x2="918.1" y2="2451.7" stroke="#000" stroke-width="5.8" stroke-dasharray="1.7 3.94" stroke-dashoffset="3.2"/>
<polygon points="922.5,1846.1 937,1846.1 929.7,1833.1" fill="#7cae00" stroke="none" stroke-width="0" stroke-linejoin="miter"/>
<polygon points="916.5,1861 931,1861 923.7,1848" fill="#7cae00" stroke="none" stroke-width="0" stroke-linejoin="miter"/>
<polygon points="933.5,1877.4 948,1877.4 940.7,1864.4" fill="#7cae00" stroke="none" stroke-width="0" stroke-linejoin="miter"/>
<polygon points="936.2,1895.5 950.8,1895.5 943.5,1882.5" fill="#7cae00" stroke="none" stroke-width="0" stroke-linejoin="miter"/>
<polygon points="914.5,1898.3 929,1898.3 921.8,1885.3" fill="#7cae00" stroke="none" stroke-width="0" stroke-linejoin="miter"/>
<polygon points="915.4,1903.3 929.9,1903.3 922.6,1890.3" fill="#7cae00" stroke="none" stroke-width="0" stroke-linejoin="miter"/>
<polygon points="965.9,1925.3 980.4,1925.3 973.1,1912.3" fill="#7cae00" stroke="none" stroke-width="0" stroke-linejoin="miter"/>
<polygon points="927.8,1966.2 942.2,1966.2 935,1953.2" fill="#7cae00" stroke="none" stroke-width="0" stroke-linejoin="miter"/>
<polygon points="944.1,2022.3 958.6,2022.3 951.4,2009.3" fill="#7cae00" stroke="none" stroke-width="0" stroke-linejoin="miter"/>
<polygon points="1210,2009.1 1224.5,2009.1 1217.3,1996.1" fill="#7cae00" stroke="none" stroke-width="0" stroke-linejoin="miter"/>
<polygon points="914,2059.5 928.5,2059.5 921.3,2046.5" fill="#7cae00" stroke="none" stroke-width="0" stroke-linejoin="miter"/>
<polygon points="931.5,2130.2 946,2130.2 938.7,2117.2" fill="#7cae00" stroke="none" stroke-width="0" stroke-linejoin="miter"/>
<polygon points="931.5,2189.7 946,2189.7 938.7,2176.7" fill="#7cae00" stroke="none" stroke-width="0" stroke-linejoin="miter"/>
<polygon points="931.5,2227.5 946,2227.5 938.7,2214.5" fill="#7cae00" stroke="none" stroke-width="0" stroke-linejoin="miter"/>
<polygon points="1031,2421.5 1045.5,2421.5 1038.2,2408.5" fill="#7cae00" stroke="none" stroke-width="0" stroke-linejoin="miter"/>
<polygon points="553.1,1731.5 567.6,1731.5 560.4,1718.5" fill="#c77cff" stroke="none" stroke-width="0" stroke-linejoin="miter"/>
<polygon points="850.5,1825.5 865,1825.5 857.7,1812.5" fill="#c77cff" stroke="none" stroke-width="0" stroke-linejoin="miter"/>
<circle cx="882.5" cy="1716" r="5.4" fill="#c77cff" stroke="#000" stroke-width="1.2"/>
<circle cx="872.7" cy="1773.8" r="5.4" fill="#c77cff" stroke="#000" stroke-width="1.2"/>
<circle cx="911.9" cy="1817" r="5.4" fill="#c77cff" stroke="#000" stroke-width="1.2"/>
<rect x="571.7" y="1716.5" width="55" height="20.5" rx="3" ry="3" fill="#fff" stroke="#c77cff" stroke-opacity="0.7" stroke-width="1.1"/><text x="599.2" y="1731.9" font-size="14.8" text-anchor="middle" style="fill:#c77cff">FARP1</text>
<rect x="771.3" y="1800.2" width="73.3" height="20.6" rx="3" ry="3" fill="#fff" stroke="#c77cff" stroke-opacity="0.7" stroke-width="1.1"/><text x="808" y="1815.7" font-size="14.8" text-anchor="middle" style="fill:#c77cff">TBC1D12</text>
<rect x="755.2" y="1689.1" width="116.8" height="22" rx="3" ry="3" fill="#fff" stroke="#c77cff" stroke-opacity="0.7" stroke-width="1.1"/><text x="813.6" y="1708.4" font-size="23.6" text-anchor="middle" style="fill:#c77cff" font-weight="bold">TMEM52B</text>
<rect x="828.5" y="1732.5" width="70.1" height="24.8" rx="3" ry="3" fill="#fff" stroke="#c77cff" stroke-opacity="0.7" stroke-width="1.1"/><text x="863.5" y="1753.2" font-size="23.8" text-anchor="middle" style="fill:#c77cff" font-weight="bold">LSM3</text>
<rect x="885.1" y="1766.6" width="98.7" height="25.9" rx="3" ry="3" fill="#fff" stroke="#c77cff" stroke-opacity="0.7" stroke-width="1.1"/><text x="934.5" y="1787.7" font-size="23.3" text-anchor="middle" style="fill:#c77cff" font-weight="bold">NSMCE2</text>
<rect x="959.8" y="1810" width="52.2" height="20" rx="3" ry="3" fill="#fff" stroke="#7cae00" stroke-opacity="0.7" stroke-width="1.1"/><text x="985.9" y="1825.2" font-size="14.8" text-anchor="middle" style="fill:#7cae00">BIRC6</text>
<rect x="998.5" y="1849.8" width="65.6" height="20" rx="3" ry="3" fill="#fff" stroke="#7cae00" stroke-opacity="0.7" stroke-width="1.1"/><text x="1031.3" y="1865" font-size="14.8" text-anchor="middle" style="fill:#7cae00">METAP2</text>
<rect x="880.3" y="1862.4" width="41.2" height="20.3" rx="3" ry="3" fill="#fff" stroke="#7cae00" stroke-opacity="0.7" stroke-width="1.1"/><text x="900.9" y="1877.7" font-size="14.8" text-anchor="middle" style="fill:#7cae00">IRF2</text>
<rect x="955.3" y="1889.5" width="38.4" height="20.3" rx="3" ry="3" fill="#fff" stroke="#7cae00" stroke-opacity="0.7" stroke-width="1.1"/><text x="974.5" y="1904.8" font-size="14.8" text-anchor="middle" style="fill:#7cae00">PXK</text>
<rect x="804.3" y="1895.4" width="62.6" height="20.3" rx="3" ry="3" fill="#fff" stroke="#7cae00" stroke-opacity="0.7" stroke-width="1.1"/><text x="835.6" y="1910.7" font-size="14.8" text-anchor="middle" style="fill:#7cae00">DICER1</text>
<rect x="926.3" y="1931.2" width="55.5" height="20.1" rx="3" ry="3" fill="#fff" stroke="#7cae00" stroke-opacity="0.7" stroke-width="1.1"/><text x="954" y="1946.4" font-size="14.8" text-anchor="middle" style="fill:#7cae00">LYRM5</text>
<rect x="1000.7" y="1936.6" width="37.8" height="20" rx="3" ry="3" fill="#fff" stroke="#7cae00" stroke-opacity="0.7" stroke-width="1.1"/><text x="1019.6" y="1951.8" font-size="14.8" text-anchor="middle" style="fill:#7cae00">IL16</text>
<rect x="883.7" y="1973.3" width="55.5" height="20.2" rx="3" ry="3" fill="#fff" stroke="#7cae00" stroke-opacity="0.7" stroke-width="1.1"/><text x="911.5" y="1988.6" font-size="14.8" text-anchor="middle" style="fill:#7cae00">FOXP1</text>
<rect x="962.9" y="1997.8" width="38.1" height="20.3" rx="3" ry="3" fill="#fff" stroke="#7cae00" stroke-opacity="0.7" stroke-width="1.1"/><text x="982" y="2013.1" font-size="14.8" text-anchor="middle" style="fill:#7cae00">FYN</text>
<rect x="1158.3" y="1992.7" width="48.2" height="20" rx="3" ry="3" fill="#fff" stroke="#7cae00" stroke-opacity="0.7" stroke-width="1.1"/><text x="1182.4" y="2007.9" font-size="14.8" text-anchor="middle" style="fill:#7cae00">KIF25</text>
<rect x="857.5" y="2065.4" width="58.1" height="20.3" rx="3" ry="3" fill="#fff" stroke="#7cae00" stroke-opacity="0.7" stroke-width="1.1"/><text x="886.5" y="2080.7" font-size="14.8" text-anchor="middle" style="fill:#7cae00">CASC1</text>
<rect x="934.7" y="2093.6" width="64.9" height="20.6" rx="3" ry="3" fill="#fff" stroke="#7cae00" stroke-opacity="0.7" stroke-width="1.1"/><text x="967.2" y="2109.1" font-size="14.8" text-anchor="middle" style="fill:#7cae00">TRGJP1</text>
<rect x="909.4" y="2153.3" width="58.6" height="20.1" rx="3" ry="3" fill="#fff" stroke="#7cae00" stroke-opacity="0.7" stroke-width="1.1"/><text x="938.7" y="2168.5" font-size="14.8" text-anchor="middle" style="fill:#7cae00">TRGC1</text>
<rect x="909.6" y="2234" width="59" height="20.3" rx="3" ry="3" fill="#fff" stroke="#7cae00" stroke-opacity="0.7" stroke-width="1.1"/><text x="939.1" y="2249.3" font-size="14.8" text-anchor="middle" style="fill:#7cae00">TRGC2</text>
<rect x="1025.2" y="2385.4" width="66.6" height="20" rx="3" ry="3" fill="#fff" stroke="#7cae00" stroke-opacity="0.7" stroke-width="1.1"/><text x="1058.5" y="2400.6" font-size="14.8" text-anchor="middle" style="fill:#7cae00">DLGAP1</text>
<path d="M571.7 1726.7L563.5 1726.1M562 1726L569.2 1723.1L568.7 1729.9Z" fill="none" stroke="#000" stroke-width="1.35" stroke-linejoin="miter"/>
<path d="M844.6 1812L854.7 1817.8M856 1818.5L848.2 1818L851.6 1812.1Z" fill="none" stroke="#000" stroke-width="1.35" stroke-linejoin="miter"/>
<path d="M872 1704L878.5 1711.4M879.5 1712.5L872.3 1709.5L877.4 1705Z" fill="none" stroke="#000" stroke-width="1.35" stroke-linejoin="miter"/>
<path d="M860 1757.3L868.6 1768.8M869.5 1770L862.6 1766.4L868 1762.4Z" fill="none" stroke="#000" stroke-width="1.35" stroke-linejoin="miter"/>
<path d="M905.5 1792.5L910.1 1810.5M910.5 1812L905.5 1806.1L912.1 1804.4Z" fill="none" stroke="#000" stroke-width="1.35" stroke-linejoin="miter"/>
<path d="M959.8 1821L932.8 1838.7M931.5 1839.5L935.5 1832.8L939.2 1838.5Z" fill="none" stroke="#000" stroke-width="1.35" stroke-linejoin="miter"/>
<path d="M998.5 1859L944 1871.2M942.5 1871.5L948.6 1866.7L950.1 1873.3Z" fill="none" stroke="#000" stroke-width="1.35" stroke-linejoin="miter"/>
<path d="M955.3 1898L946.2 1891.8M945 1891L952.7 1892.1L948.9 1897.7Z" fill="none" stroke="#000" stroke-width="1.35" stroke-linejoin="miter"/>
<path d="M866.9 1905L917.5 1893.8M919 1893.5L912.9 1898.3L911.4 1891.7Z" fill="none" stroke="#000" stroke-width="1.35" stroke-linejoin="miter"/>
<path d="M926.5 1941L921.7 1901.5M921.5 1900L925.7 1906.5L919 1907.4Z" fill="none" stroke="#000" stroke-width="1.35" stroke-linejoin="miter"/>
<path d="M1000.7 1947L976.1 1923M975 1922L982.4 1924.4L977.6 1929.3Z" fill="none" stroke="#000" stroke-width="1.35" stroke-linejoin="miter"/>
<path d="M925 1973.3L932.5 1964.2M933.5 1963L931.7 1970.6L926.4 1966.2Z" fill="none" stroke="#000" stroke-width="1.35" stroke-linejoin="miter"/>
<path d="M962.9 2011L954.8 2015.7M953.5 2016.5L957.8 2010L961.3 2015.9Z" fill="none" stroke="#000" stroke-width="1.35" stroke-linejoin="miter"/>
<path d="M1206.5 2003L1214 2003.4M1215.5 2003.5L1208.3 2006.5L1208.7 1999.7Z" fill="none" stroke="#000" stroke-width="1.35" stroke-linejoin="miter"/>
<path d="M916 2068L920 2056.9M920.5 2055.5L921.3 2063.2L914.9 2060.9Z" fill="none" stroke="#000" stroke-width="1.35" stroke-linejoin="miter"/>
<path d="M948.5 2114.2L941.5 2122.4M940.5 2123.5L942.5 2116L947.6 2120.4Z" fill="none" stroke="#000" stroke-width="1.35" stroke-linejoin="miter"/>
<path d="M938.7 2173.4L938.7 2181.5M938.7 2183L935.3 2176L942.1 2176Z" fill="none" stroke="#000" stroke-width="1.35" stroke-linejoin="miter"/>
<path d="M938.7 2234L938.7 2225.5M938.7 2224L942.1 2231L935.3 2231Z" fill="none" stroke="#000" stroke-width="1.35" stroke-linejoin="miter"/>
<path d="M1047 2405.4L1040.5 2412.9M1039.5 2414L1041.5 2406.5L1046.7 2411Z" fill="none" stroke="#000" stroke-width="1.35" stroke-linejoin="miter"/>
<rect x="528" y="1681.1" width="722.9" height="770.6" fill="none" stroke="#000" stroke-width="1.5"/>
<path d="M528 1834.9h-4.5" stroke="#000" stroke-width="1.2"/>
<text x="519.5" y="1841.3" font-size="18" text-anchor="end">0</text>
<path d="M528 2034.6h-4.5" stroke="#000" stroke-width="1.2"/>
<text x="519.5" y="2041" font-size="18" text-anchor="end">−1</text>
<path d="M528 2234.4h-4.5" stroke="#000" stroke-width="1.2"/>
<text x="519.5" y="2240.8" font-size="18" text-anchor="end">−2</text>
<path d="M528 2434.2h-4.5" stroke="#000" stroke-width="1.2"/>
<text x="519.5" y="2440.6" font-size="18" text-anchor="end">−3</text>
<path d="M706.4 2451.7v4.5" stroke="#000" stroke-width="1.2"/>
<text x="706.4" y="2467.8" font-size="18" text-anchor="middle">−0.1</text>
<path d="M916.6 2451.7v4.5" stroke="#000" stroke-width="1.2"/>
<text x="916.6" y="2467.8" font-size="18" text-anchor="middle">0.0</text>
<path d="M1126.7 2451.7v4.5" stroke="#000" stroke-width="1.2"/>
<text x="1126.7" y="2467.8" font-size="18" text-anchor="middle">0.1</text>
<text x="889.2" y="2492" font-size="29.7" text-anchor="middle">Δ Methylation (diff.mean)</text>
<text x="493.6" y="2065.9" font-size="30" text-anchor="middle" transform="rotate(-90 493.6 2065.9)">log2(Fold-Change)</text>
<text x="637.4" y="1672.8" font-size="23.8" font-style="italic">Serum-derived &amp; tissue applicable PGPs (n=45)</text>
<text x="456" y="1699.6" font-size="61" font-weight="bold">e.</text>
<rect x="536.7" y="2289.5" width="321.7" height="154.3" fill="#fff" stroke="#000" stroke-width="1.6"/>
<text x="547.7" y="2306.4" font-size="17.7">Source Methylation:</text><line x1="547.7" y1="2309.8" x2="706.5" y2="2309.8" stroke="#000" stroke-width="1.1"/>
<circle cx="555" cy="2322.8" r="6" fill="#000" stroke="none" stroke-width="0"/>
<text x="574.8" y="2329" font-size="17.7">Concordant</text>
<polygon points="548.4,2347.9 562.9,2347.9 555.6,2335.4" fill="#000" stroke="none" stroke-width="0" stroke-linejoin="miter"/>
<text x="574.8" y="2347.9" font-size="17.7">Discordant</text>
<text x="547.7" y="2366.5" font-size="17.7">PGP Behavior:</text><line x1="547.7" y1="2369.5" x2="666.5" y2="2369.5" stroke="#000" stroke-width="1.1"/>
<circle cx="555" cy="2382.6" r="5.4" fill="#7cae00" stroke="none" stroke-width="0"/>
<text x="574.8" y="2387.4" font-size="17.7">Downregulated &amp; Hypermethylated</text>
<circle cx="555" cy="2403.7" r="5.4" fill="#c77cff" stroke="none" stroke-width="0"/>
<text x="574.8" y="2408" font-size="17.7">Upregulated &amp; Hypomethylated</text>
<circle cx="555" cy="2427.7" r="5.4" fill="#c8c8c8" stroke="none" stroke-width="0"/>
<text x="574.8" y="2431.9" font-size="17.7">Other</text>
</svg>
</body></html>
